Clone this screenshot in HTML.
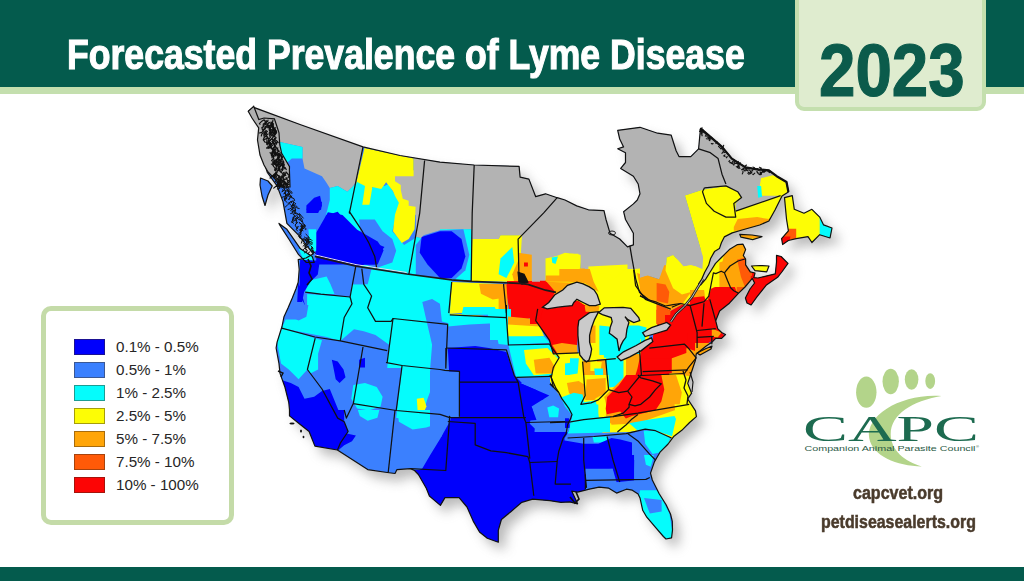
<!DOCTYPE html>
<html><head><meta charset="utf-8">
<style>
html,body{margin:0;padding:0;}
body{width:1024px;height:581px;position:relative;overflow:hidden;background:#fff;font-family:"Liberation Sans",sans-serif;}
#hdr{position:absolute;left:0;top:0;width:1024px;height:87px;background:#045b4d;}
#hdrl{position:absolute;left:0;top:87px;width:1024px;height:7px;background:#c4dfae;}
#title{position:absolute;left:67px;top:31px;color:#fff;font-weight:bold;font-size:42px;line-height:48px;white-space:nowrap;transform-origin:0 0;transform:scaleX(0.848);-webkit-text-stroke:1.1px #fff;}
#yrbox{position:absolute;left:795px;top:-10px;width:183px;height:113px;background:#dfeccf;border:4px solid #c4dfae;border-radius:9px;}
#yr{position:absolute;left:819px;top:31px;color:#0b5b4b;font-weight:bold;font-size:74.4px;line-height:80px;white-space:nowrap;transform-origin:0 0;transform:scaleX(0.88);-webkit-text-stroke:1.2px #0b5b4b;}
#leg{position:absolute;left:41px;top:306px;width:183px;height:209px;border:5px solid #c4dba8;border-radius:10px;background:#fff;}
.sw{position:absolute;left:74px;width:29px;height:14px;border:1px solid rgba(60,40,20,0.45);margin-top:0.5px;}
.lt{position:absolute;left:116px;font-size:15.2px;color:#262626;white-space:nowrap;line-height:18px;}
#foot{position:absolute;left:0;top:567px;width:1024px;height:14px;background:#045b4d;}
.url{position:absolute;color:#4a3b2c;font-weight:bold;white-space:nowrap;transform-origin:0 0;-webkit-text-stroke:0.5px #4a3b2c;}
</style></head><body>
<div id="hdr"></div><div id="hdrl"></div>
<div id="title">Forecasted Prevalence of Lyme Disease</div>
<div id="yrbox"></div>
<div id="yr">2023</div>

<svg id="map" width="1024" height="581" viewBox="0 0 1024 581" style="position:absolute;left:0;top:0">
<defs><clipPath id="landclip"><polygon points="253.7,107.4 300.0,124.5 363.0,146.9 400.0,155.5 440.0,162.1 474.2,165.0 519.1,166.4 520.1,177.1 528.9,179.1 535.7,196.7 545.5,193.8 557.2,197.7 565.0,200.0 576.7,205.9 588.4,209.8 604.0,210.7 606.0,219.5 610.0,233.2 619.7,239.0 627.5,246.9 633.4,244.9 633.4,233.2 625.5,219.5 623.6,211.7 633.4,203.9 637.3,200.0 640.0,193.8 638.2,184.0 633.4,176.2 620.7,168.4 625.5,162.5 625.5,152.7 617.7,148.8 623.6,146.9 619.7,139.0 617.7,130.3 640.0,127.3 657.6,133.2 671.2,135.2 676.1,150.8 679.0,156.6 690.8,156.6 698.6,148.8 700.5,128.3 708.4,135.2 722.0,146.9 731.8,158.6 745.5,167.4 757.2,169.3 768.9,170.3 776.7,176.2 786.5,182.0 788.4,192.0 782.0,196.0 775.0,210.0 768.9,221.0 759.7,225.0 742.0,230.0 732.2,232.9 724.3,236.9 721.4,242.8 719.4,248.6 714.5,251.6 710.6,258.5 708.6,265.3 704.7,272.2 701.8,279.1 698.5,284.0 700.5,285.0 705.7,279.1 710.6,271.2 715.5,263.4 721.4,257.5 729.3,249.6 737.1,244.7 743.0,244.2 745.6,249.6 743.3,255.5 745.6,259.0 745.6,264.8 750.3,271.9 755.0,273.0 753.8,277.7 758.0,278.0 766.1,276.1 775.3,273.8 776.5,262.0 776.5,255.4 781.1,256.5 788.0,263.4 782.2,271.5 777.6,277.3 766.1,285.3 756.9,296.9 751.1,305.0 747.0,303.0 745.4,298.0 750.0,289.0 754.6,283.0 752.3,278.4 745.0,287.0 738.4,293.4 729.4,303.2 719.6,311.0 715.7,320.8 717.7,328.6 721.6,332.5 725.5,334.5 721.6,338.4 715.7,338.4 711.8,342.3 705.9,346.2 696.2,354.0 695.5,360.0 691.6,371.7 687.7,383.4 691.6,393.2 687.7,399.0 695.5,410.8 696.4,416.6 689.6,422.5 681.8,430.3 674.0,436.2 668.1,444.0 660.3,451.8 654.5,461.6 650.5,473.1 652.3,480.0 659.2,493.8 666.1,504.8 670.5,514.0 672.3,521.3 672.5,530.0 671.6,537.8 666.0,539.0 663.4,536.5 655.1,526.8 646.8,517.2 642.7,510.3 640.0,497.9 638.1,494.1 632.3,490.2 626.4,489.2 616.6,493.1 608.8,488.2 599.1,487.2 589.3,489.2 577.6,492.1 571.7,491.1 577.6,503.8 569.8,501.9 560.9,502.3 549.9,500.7 532.7,499.1 521.8,502.3 510.8,511.7 501.4,519.5 498.3,530.4 498.3,542.2 487.3,538.3 479.5,532.0 473.2,521.1 467.0,507.0 459.1,497.6 445.0,497.6 440.4,505.4 429.4,496.0 426.3,488.2 418.4,474.5 414.5,470.5 410.6,468.6 397.0,469.6 395.0,473.5 387.2,472.5 367.7,469.6 337.4,450.0 314.9,446.1 309.1,431.5 299.3,423.7 289.5,415.9 289.5,410.0 288.8,402.7 284.9,387.0 280.0,373.4 279.0,363.6 276.1,348.0 277.1,342.1 282.0,326.5 284.0,316.7 288.0,308.0 292.3,298.0 296.2,288.2 298.2,282.3 299.2,269.5 298.2,259.7 306.0,258.0 313.0,254.0 312.3,252.7 298.6,235.2 286.9,223.4 283.0,201.6 277.1,185.9 267.3,172.3 262.5,156.6 258.6,139.0 259.5,125.4 248.8,110.7" fill="#000" /><polygon points="279.0,223.4 286.9,229.3 300.5,248.8 312.3,256.6 314.2,262.5 306.4,262.5 298.6,254.7 288.8,239.0 280.0,225.4" fill="#000" /><polygon points="260.5,178.0 268.0,181.0 272.2,186.0 268.0,195.0 265.0,205.5 262.0,196.0 260.0,185.0" fill="#000" /><polygon points="784.5,197.6 792.3,195.6 794.3,209.3 804.0,213.2 811.9,209.3 819.7,217.1 823.6,224.9 832.0,228.0 830.0,238.0 819.7,234.7 811.9,242.5 808.0,236.6 796.2,238.6 788.4,240.5 782.6,244.5 781.6,238.6 788.4,230.8 786.5,219.0" fill="#000" /><polygon points="739.8,234.4 752.0,235.0 762.0,236.7 752.7,239.6 741.0,237.2" fill="#000" /><polygon points="751.5,266.0 760.0,265.5 769.0,266.0 766.7,271.9 755.0,270.7" fill="#000" /><polygon points="697.0,353.0 705.0,349.0 712.0,346.0 711.0,349.0 700.0,355.0" fill="#000" /></clipPath>
<filter id="shd" x="-10%" y="-10%" width="130%" height="130%"><feGaussianBlur stdDeviation="6"/></filter></defs>
<g transform="translate(7,8)" filter="url(#shd)" opacity="0.5"><polygon points="253.7,107.4 300.0,124.5 363.0,146.9 400.0,155.5 440.0,162.1 474.2,165.0 519.1,166.4 520.1,177.1 528.9,179.1 535.7,196.7 545.5,193.8 557.2,197.7 565.0,200.0 576.7,205.9 588.4,209.8 604.0,210.7 606.0,219.5 610.0,233.2 619.7,239.0 627.5,246.9 633.4,244.9 633.4,233.2 625.5,219.5 623.6,211.7 633.4,203.9 637.3,200.0 640.0,193.8 638.2,184.0 633.4,176.2 620.7,168.4 625.5,162.5 625.5,152.7 617.7,148.8 623.6,146.9 619.7,139.0 617.7,130.3 640.0,127.3 657.6,133.2 671.2,135.2 676.1,150.8 679.0,156.6 690.8,156.6 698.6,148.8 700.5,128.3 708.4,135.2 722.0,146.9 731.8,158.6 745.5,167.4 757.2,169.3 768.9,170.3 776.7,176.2 786.5,182.0 788.4,192.0 782.0,196.0 775.0,210.0 768.9,221.0 759.7,225.0 742.0,230.0 732.2,232.9 724.3,236.9 721.4,242.8 719.4,248.6 714.5,251.6 710.6,258.5 708.6,265.3 704.7,272.2 701.8,279.1 698.5,284.0 700.5,285.0 705.7,279.1 710.6,271.2 715.5,263.4 721.4,257.5 729.3,249.6 737.1,244.7 743.0,244.2 745.6,249.6 743.3,255.5 745.6,259.0 745.6,264.8 750.3,271.9 755.0,273.0 753.8,277.7 758.0,278.0 766.1,276.1 775.3,273.8 776.5,262.0 776.5,255.4 781.1,256.5 788.0,263.4 782.2,271.5 777.6,277.3 766.1,285.3 756.9,296.9 751.1,305.0 747.0,303.0 745.4,298.0 750.0,289.0 754.6,283.0 752.3,278.4 745.0,287.0 738.4,293.4 729.4,303.2 719.6,311.0 715.7,320.8 717.7,328.6 721.6,332.5 725.5,334.5 721.6,338.4 715.7,338.4 711.8,342.3 705.9,346.2 696.2,354.0 695.5,360.0 691.6,371.7 687.7,383.4 691.6,393.2 687.7,399.0 695.5,410.8 696.4,416.6 689.6,422.5 681.8,430.3 674.0,436.2 668.1,444.0 660.3,451.8 654.5,461.6 650.5,473.1 652.3,480.0 659.2,493.8 666.1,504.8 670.5,514.0 672.3,521.3 672.5,530.0 671.6,537.8 666.0,539.0 663.4,536.5 655.1,526.8 646.8,517.2 642.7,510.3 640.0,497.9 638.1,494.1 632.3,490.2 626.4,489.2 616.6,493.1 608.8,488.2 599.1,487.2 589.3,489.2 577.6,492.1 571.7,491.1 577.6,503.8 569.8,501.9 560.9,502.3 549.9,500.7 532.7,499.1 521.8,502.3 510.8,511.7 501.4,519.5 498.3,530.4 498.3,542.2 487.3,538.3 479.5,532.0 473.2,521.1 467.0,507.0 459.1,497.6 445.0,497.6 440.4,505.4 429.4,496.0 426.3,488.2 418.4,474.5 414.5,470.5 410.6,468.6 397.0,469.6 395.0,473.5 387.2,472.5 367.7,469.6 337.4,450.0 314.9,446.1 309.1,431.5 299.3,423.7 289.5,415.9 289.5,410.0 288.8,402.7 284.9,387.0 280.0,373.4 279.0,363.6 276.1,348.0 277.1,342.1 282.0,326.5 284.0,316.7 288.0,308.0 292.3,298.0 296.2,288.2 298.2,282.3 299.2,269.5 298.2,259.7 306.0,258.0 313.0,254.0 312.3,252.7 298.6,235.2 286.9,223.4 283.0,201.6 277.1,185.9 267.3,172.3 262.5,156.6 258.6,139.0 259.5,125.4 248.8,110.7" fill="#777" /><polygon points="279.0,223.4 286.9,229.3 300.5,248.8 312.3,256.6 314.2,262.5 306.4,262.5 298.6,254.7 288.8,239.0 280.0,225.4" fill="#777" /><polygon points="260.5,178.0 268.0,181.0 272.2,186.0 268.0,195.0 265.0,205.5 262.0,196.0 260.0,185.0" fill="#777" /><polygon points="784.5,197.6 792.3,195.6 794.3,209.3 804.0,213.2 811.9,209.3 819.7,217.1 823.6,224.9 832.0,228.0 830.0,238.0 819.7,234.7 811.9,242.5 808.0,236.6 796.2,238.6 788.4,240.5 782.6,244.5 781.6,238.6 788.4,230.8 786.5,219.0" fill="#777" /><polygon points="739.8,234.4 752.0,235.0 762.0,236.7 752.7,239.6 741.0,237.2" fill="#777" /><polygon points="751.5,266.0 760.0,265.5 769.0,266.0 766.7,271.9 755.0,270.7" fill="#777" /><polygon points="697.0,353.0 705.0,349.0 712.0,346.0 711.0,349.0 700.0,355.0" fill="#777" /></g>
<g clip-path="url(#landclip)">
<rect x="240" y="100" width="600" height="450" fill="#3b80fe"/>
<polygon points="240.0,95.0 850.0,95.0 850.0,196.0 780.6,195.6 735.7,211.2 735.7,203.4 741.6,197.6 737.7,191.7 726.0,185.9 702.5,189.8 684.9,195.6 704.5,262.0 704.1,265.2 696.2,269.0 680.6,265.2 674.8,255.4 667.0,255.4 665.0,267.1 649.4,276.9 641.6,278.8 631.8,273.0 622.0,269.0 602.5,271.0 590.8,273.0 581.0,269.0 579.1,255.4 569.3,253.4 545.9,259.3 545.5,289.8 531.0,284.0 528.0,274.0 528.0,260.0 519.0,254.7 519.0,235.2 500.5,235.2 498.6,239.0 472.2,239.0 471.2,229.3 440.0,231.0 425.5,239.0 415.8,237.1 415.8,215.0 405.0,210.0 398.0,200.0 390.0,186.0 390.0,176.0 413.8,170.3 413.8,158.6 363.0,147.0 357.2,180.0 353.3,185.9 347.4,191.8 337.7,186.0 329.8,187.9 326.0,182.0 322.0,176.2 304.5,168.4 302.5,158.6 302.5,146.9 280.0,142.0 270.0,140.0 255.0,125.0 245.0,112.0 240.0,100.0" fill="#b3b3b3" />
<polygon points="280.0,142.0 302.5,146.9 302.5,158.6 291.8,158.6 284.9,164.5 280.0,154.7" fill="#05fcfc" />
<polygon points="329.8,187.9 337.7,185.9 347.4,191.8 353.3,185.9 357.2,182.0 363.0,178.1 357.2,197.7 365.0,193.8 376.7,184.0 384.5,185.9 388.4,184.0 400.2,203.5 402.1,213.1 396.2,215.6 392.3,231.2 404.1,244.9 413.8,239.1 415.8,237.1 425.5,239.1 440.0,237.1 440.0,278.1 376.7,268.4 357.2,266.4 324.0,229.3 325.9,215.6 329.8,200.0" fill="#05fcfc" />
<polygon points="364.5,147.9 413.6,158.6 413.6,176.3 395.0,176.3 395.0,181.2 400.8,185.1 400.8,190.0 402.8,198.8 408.7,200.8 408.7,205.7 415.6,206.7 414.6,229.3 408.7,239.1 401.8,243.0 393.0,231.2 395.0,214.5 398.9,202.8 395.0,195.9 393.0,191.0 386.1,182.2 381.2,189.1 372.4,187.1 369.4,204.7 356.7,204.7 353.0,197.0" fill="#fdfd05" />
<polygon points="357.2,182.0 365.0,185.9 361.1,213.1 357.2,219.5 349.4,211.7 346.4,200.0" fill="#05fcfc" />
<polygon points="359.1,219.5 374.8,219.5 382.6,231.2 392.3,239.1 396.2,250.8 392.3,262.5 380.6,266.4 376.7,268.4 365.0,264.5 361.1,239.1" fill="#3b80fe" />
<polygon points="325.9,215.6 337.7,211.7 349.4,225.4 365.0,239.1 384.5,246.9 376.7,256.6 374.8,264.5 365.0,264.5 357.2,266.4 315.2,255.7 316.2,246.9 320.1,239.1 324.0,229.3" fill="#0000fc" />
<polygon points="308.4,203.9 316.2,200.0 322.0,202.0 321.1,209.8 314.2,211.7 306.4,209.8" fill="#0000fc" />
<polygon points="306.4,205.5 314.2,197.7 320.1,195.7 322.0,205.5 318.1,213.1 306.4,213.1" fill="#0000fc" />
<polygon points="316.2,232.7 327.9,212.2 342.5,215.1 357.2,229.8 377.7,241.5 383.6,250.3 377.7,264.6 316.2,264.6" fill="#0000fc" />
<polygon points="308.4,229.3 316.2,229.3 316.2,250.8 310.3,252.7" fill="#05fcfc" />
<polygon points="298.6,248.8 312.3,254.7 314.2,262.5 304.5,262.5" fill="#05fcfc" />
<polygon points="440.0,229.3 471.2,229.3 471.2,280.1 440.0,279.7" fill="#05fcfc" />
<polygon points="440.0,230.3 463.4,229.3 469.3,254.7 465.4,270.3 455.6,279.1 440.0,279.1 415.8,278.1 415.8,244.9 423.6,235.2" fill="#3b80fe" />
<polygon points="440.0,231.2 451.7,231.2 461.5,239.1 465.4,256.6 461.5,268.4 451.7,278.1 440.0,278.1 427.5,264.5 419.7,252.7 421.6,237.1" fill="#0000fc" />
<polygon points="307.1,294.1 350.1,297.0 352.0,284.3 363.8,284.3 363.8,266.7 451.6,280.4 449.7,323.4 441.9,321.4 439.9,303.8 432.1,298.9 422.3,301.9 426.2,319.5 432.1,344.8 430.2,368.1 387.2,368.1 389.1,344.8 375.5,335.1 363.8,331.2 354.0,329.2 340.3,340.9 326.6,337.0 281.7,328.2 285.6,319.5 299.3,319.5 307.1,309.7" fill="#05fcfc" />
<polygon points="309.1,280.4 326.6,276.5 330.5,284.3 334.5,294.1 320.8,294.1 305.2,292.1" fill="#05fcfc" />
<polygon points="300.1,259.7 319.8,260.7 317.8,274.4 310.0,282.3 304.1,292.1 302.1,302.0 297.2,302.0 298.2,282.3 305.2,305.8 299.3,294.1" fill="#0000fc" />
<polygon points="355.9,266.7 371.6,268.7 367.7,284.3 352.0,284.3" fill="#3b80fe" />
<polygon points="282.0,327.5 315.2,338.2 307.4,369.5 298.6,379.2 288.8,369.5 281.0,363.6 277.1,342.1" fill="#05fcfc" />
<polygon points="279.1,379.2 290.8,383.1 298.6,387.0 304.5,398.8 314.2,396.8 322.0,390.9 329.8,389.0 341.6,418.1 279.1,418.1" fill="#0000fc" />
<polygon points="315.2,338.2 322.0,340.2 318.1,353.8 318.1,369.5 310.3,373.4 307.4,369.5" fill="#05fcfc" />
<polygon points="331.8,359.7 337.7,361.6 343.5,369.5 345.5,377.3 339.6,383.1 335.7,379.2 333.8,369.5" fill="#0000fc" />
<polygon points="359.1,359.7 365.0,357.7 365.0,367.5 359.1,367.5" fill="#0000fc" />
<polygon points="353.3,385.1 365.0,383.1 376.7,387.0 382.6,396.8 380.6,406.6 368.9,410.5 357.2,408.5 351.3,398.8" fill="#05fcfc" />
<polygon points="393.3,318.7 425.5,322.6 427.5,367.5 402.1,365.5 386.5,362.6 388.4,350.9" fill="#05fcfc" />
<polygon points="402.1,365.5 429.5,367.5 433.4,383.1 427.5,398.8 421.6,418.1 396.2,418.1" fill="#05fcfc" />
<polygon points="416.8,398.8 423.6,397.8 426.5,406.6 423.6,412.4 417.7,411.4" fill="#fdfd05" />
<polygon points="288.8,305.0 308.4,305.0 306.4,316.7 298.6,320.6 290.8,316.7" fill="#3b80fe" />
<polygon points="289.5,410.0 344.2,410.0 344.2,421.7 348.1,431.5 340.3,443.2 337.4,450.0 314.9,446.1 289.5,415.9" fill="#0000fc" />
<polygon points="337.4,431.5 355.9,435.4 352.0,441.2 344.2,445.2 337.4,451.0" fill="#0000fc" />
<polygon points="397.0,410.0 439.9,410.0 438.0,423.7 426.2,427.6 412.6,429.5 398.9,421.7" fill="#05fcfc" />
<polygon points="357.9,410.0 379.4,410.0 377.4,417.8 367.7,420.7 359.8,415.9" fill="#05fcfc" />
<polygon points="422.3,468.6 430.2,454.9 439.9,439.3 449.7,421.7 451.6,415.9 447.8,348.0 475.2,346.0 488.8,348.0 506.4,351.9 514.2,375.3 522.0,383.1 533.8,387.0 545.5,398.8 549.4,418.1 529.8,423.4 535.7,429.3 565.0,429.3 576.7,439.1 592.3,444.9 609.9,441.0 627.5,439.1 635.3,456.6 633.4,478.1 619.7,482.0 615.8,468.4 584.5,466.4 584.5,491.8 557.2,513.1 440.0,513.1 420.0,560.0 400.0,480.0" fill="#0000fc" />
<polygon points="440.0,371.4 459.5,371.4 459.5,418.1 449.0,417.3 441.2,437.0 430.0,437.0 430.0,371.0" fill="#3b80fe" />
<polygon points="525.9,400.0 565.0,400.0 567.0,419.5 565.0,429.3 535.7,429.3 529.8,423.4 531.8,411.7 549.4,418.1 529.8,406.6 537.7,396.8 549.4,398.8" fill="#3b80fe" />
<polygon points="547.4,405.9 559.1,405.9 559.1,417.6 547.4,417.6" fill="#05fcfc" />
<polygon points="584.5,466.4 615.8,464.5 619.7,482.0 592.3,489.8 584.5,489.8" fill="#3b80fe" />
<polygon points="472.2,239.1 498.6,239.1 500.5,235.2 522.0,235.2 519.1,282.0 471.2,281.1" fill="#fdfd05" />
<polygon points="500.5,258.6 512.3,246.9 514.2,262.5 506.4,278.1 498.6,274.2" fill="#05fcfc" />
<polygon points="512.3,274.2 519.1,258.6 525.9,262.5 522.0,282.0 514.2,282.0" fill="#ffa508" />
<polygon points="518.1,252.7 531.8,254.7 531.8,285.9 518.1,285.9" fill="#ffa508" />
<polygon points="524.0,262.5 527.9,262.5 527.9,266.4 524.0,266.4" fill="#fc0505" />
<polygon points="588.4,266.4 627.5,264.5 627.5,282.0 588.4,282.0" fill="#fdfd05" />
<polygon points="545.5,258.6 555.2,256.6 565.0,252.7 580.6,254.7 580.6,268.4 592.3,272.3 609.9,274.2 613.8,280.1 621.6,270.3 640.0,268.4 640.0,313.1 545.5,313.1" fill="#fdfd05" />
<polygon points="545.5,280.1 557.2,268.4 584.5,268.4 594.3,276.2 596.2,284.0 592.3,293.8 576.7,289.8 557.2,293.8 545.5,291.8" fill="#ffa508" />
<polygon points="451.7,282.0 503.5,284.0 506.4,313.1 448.8,313.1 506.4,317.7 449.8,314.8" fill="#fdfd05" />
<polygon points="479.1,284.0 502.5,284.0 504.5,297.7 492.7,299.6 481.0,293.8" fill="#ffa508" />
<polygon points="463.4,307.0 494.7,307.0 498.6,314.8 461.5,314.8" fill="#05fcfc" />
<polygon points="449.8,314.8 506.4,317.7 506.4,324.5 488.8,323.6 469.3,324.5 447.8,326.5" fill="#05fcfc" />
<polygon points="488.8,316.7 506.4,317.7 508.4,345.0 498.6,344.1 496.6,334.3" fill="#05fcfc" />
<polygon points="504.5,284.0 545.5,289.8 557.2,293.8 549.4,313.1 506.4,313.1 537.7,305.0 533.8,316.7 524.0,320.6 510.3,316.7 508.4,305.0" fill="#fc0505" />
<polygon points="498.6,285.9 506.4,284.0 508.4,313.1 498.6,313.1" fill="#ffa508" />
<polygon points="507.0,281.0 532.0,281.0 532.0,293.0 507.0,293.0" fill="#fc0505" />
<polygon points="488.0,309.0 511.0,309.0 511.0,319.0 488.0,319.0" fill="#05fcfc" />
<polygon points="507.8,316.6 539.2,319.5 541.1,328.4 507.8,326.4" fill="#ffa508" />
<polygon points="507.8,324.4 540.1,326.4 544.1,336.2 507.8,338.2" fill="#fdfd05" />
<polygon points="507.8,336.2 544.1,336.2 550.0,343.1 507.8,344.6" fill="#05fcfc" />
<polygon points="490.0,317.0 508.0,317.0 508.0,340.0 490.0,340.0" fill="#05fcfc" />
<polygon points="508.4,345.0 549.4,344.1 559.1,357.7 551.3,377.3 516.2,377.3 514.2,369.5" fill="#05fcfc" />
<polygon points="524.0,349.9 547.4,348.0 559.1,359.7 553.3,373.4 533.8,375.3 525.9,363.6" fill="#fdfd05" />
<polygon points="533.8,359.7 549.4,357.7 555.2,367.5 551.3,373.4 535.7,373.4" fill="#ffa508" />
<polygon points="537.7,308.9 580.6,305.0 578.7,324.5 576.7,351.9 553.3,353.8 549.4,340.2 535.7,320.6" fill="#fc0505" />
<polygon points="552.3,345.1 561.9,343.1 577.1,345.1 577.8,357.5 559.2,356.2" fill="#ffa508" />
<polygon points="553.3,353.8 578.7,352.9 582.6,361.6 584.5,402.7 580.6,412.4 567.0,406.6 553.3,387.0 551.3,377.3 559.1,357.7" fill="#fdfd05" />
<polygon points="565.0,363.6 580.6,361.6 582.6,398.8 572.8,392.9 565.0,383.1" fill="#05fcfc" />
<polygon points="572.8,383.1 582.6,383.1 584.5,396.8 574.8,394.8" fill="#ffa508" />
<polygon points="582.6,361.6 606.0,359.7 608.0,389.0 592.3,400.7 584.5,402.7" fill="#ffa508" />
<polygon points="596.2,369.5 606.0,369.5 606.0,387.0 598.2,383.1" fill="#05fcfc" />
<polygon points="594.3,316.7 615.8,316.7 623.6,344.1 615.8,358.7 594.3,359.7" fill="#fdfd05" />
<polygon points="600.2,328.4 615.8,330.4 619.7,357.7 604.1,357.7" fill="#05fcfc" />
<polygon points="606.0,357.7 627.5,355.8 627.5,383.1 615.8,389.0 608.0,389.0" fill="#05fcfc" />
<polygon points="555.2,305.0 596.2,305.0 588.4,312.8 557.2,312.8" fill="#fc0505" />
<polygon points="540.0,280.8 545.9,280.8 561.5,286.6 543.9,304.2 540.0,304.2" fill="#fc0505" />
<polygon points="545.9,280.8 559.5,269.1 588.8,273.0 594.7,286.6 586.9,294.5 545.9,294.5" fill="#ffa508" />
<polygon points="545.9,258.9 555.5,256.4 568.2,253.8 578.4,253.8 579.7,269.1 589.8,271.6 606.4,278.0 611.5,280.6 619.1,275.5 625.5,269.1 633.1,269.1 638.2,288.2 644.6,300.9 651.0,303.5 660.0,303.5 660.0,324.0 598.8,324.0 597.5,292.0 583.5,283.1 545.9,281.8" fill="#fdfd05" />
<polygon points="551.6,257.6 558.0,256.4 555.5,264.0 552.3,262.7" fill="#05fcfc" />
<polygon points="559.3,269.1 589.8,269.1 593.7,281.8 598.8,292.0 584.7,283.1 568.2,281.8 545.9,281.8 545.9,275.5 559.3,275.5" fill="#ffa508" />
<polygon points="637.0,272.9 660.0,280.6 660.0,303.5 652.2,300.9 642.0,297.1" fill="#ffa508" />
<polygon points="530.0,281.8 546.6,281.8 555.5,292.0 544.0,307.3 537.6,324.0 530.0,324.0" fill="#fc0505" />
<polygon points="542.7,308.6 561.8,300.9 578.4,300.9 586.0,306.0 598.8,306.0 589.8,316.2 578.4,324.0 540.2,324.0" fill="#fc0505" />
<polygon points="584.7,303.5 598.8,303.5 596.2,312.4 586.0,311.1" fill="#ffa508" />
<polygon points="589.6,305.9 670.0,298.0 670.0,327.4 653.4,327.4 646.5,343.1 623.0,343.1 619.1,355.0 589.6,355.0" fill="#fdfd05" />
<polygon points="584.7,305.9 599.4,305.9 598.5,311.7 585.7,311.7" fill="#ffa508" />
<polygon points="644.6,298.0 670.0,298.0 670.0,322.5 656.4,322.5 653.4,309.8" fill="#ffa508" />
<polygon points="656.4,305.9 670.0,303.9 670.0,355.0 651.5,355.0 653.4,332.3 658.3,322.5" fill="#fc0505" />
<polygon points="589.6,325.5 595.5,325.5 595.5,343.1 589.6,343.1" fill="#ffa508" />
<polygon points="599.4,325.5 609.3,326.5 612.2,331.4 617.1,339.2 619.1,355.0 599.4,355.0" fill="#05fcfc" />
<polygon points="623.0,325.5 638.7,325.5 646.5,327.4 644.6,343.1 623.0,343.1 621.0,337.3" fill="#05fcfc" />
<polygon points="636.7,339.2 640.7,339.2 640.7,343.1 636.7,343.1" fill="#fdfd05" />
<polygon points="582.7,360.7 606.9,359.5 608.2,394.0 582.7,394.0" fill="#ffa508" />
<polygon points="590.4,362.0 601.8,362.0 600.6,370.9 590.4,370.9" fill="#fdfd05" />
<polygon points="594.2,368.4 603.1,368.4 603.1,379.8 595.5,379.8" fill="#05fcfc" />
<polygon points="570.0,355.7 582.7,355.7 582.7,394.0 570.0,394.0" fill="#fdfd05" />
<polygon points="570.0,358.2 578.9,358.2 577.6,373.5 570.0,374.7" fill="#05fcfc" />
<polygon points="605.7,359.5 629.8,356.9 633.7,368.4 628.6,386.2 623.5,394.0 608.2,394.0" fill="#fdfd05" />
<polygon points="605.7,359.5 619.7,358.2 623.5,360.7 623.5,377.3 618.4,386.2 609.5,387.5 606.9,377.3" fill="#05fcfc" />
<polygon points="626.0,358.2 641.3,350.6 638.8,370.9 629.8,386.2 620.9,394.0 626.0,376.0" fill="#ffa508" />
<polygon points="641.3,350.6 651.5,342.9 659.1,332.7 671.9,327.6 700.0,320.0 700.0,394.0 626.0,394.0 633.7,381.1 637.5,368.4" fill="#fc0505" />
<polygon points="671.9,358.2 689.7,351.8 697.3,353.1 696.1,373.5 689.7,376.0 671.9,373.5" fill="#ffa508" />
<polygon points="669.3,373.5 692.2,370.9 694.8,391.3 677.0,394.0 666.8,386.2" fill="#fdfd05" />
<polygon points="550.0,375.0 583.7,375.0 583.7,404.3 570.5,405.8 561.7,398.4 550.0,389.6" fill="#fdfd05" />
<polygon points="558.8,375.0 579.3,375.0 577.8,383.8 561.7,383.8" fill="#05fcfc" />
<polygon points="570.5,385.3 583.7,383.8 583.7,398.4 572.0,397.0" fill="#ffa508" />
<polygon points="583.7,375.0 608.6,375.0 608.6,389.6 598.3,399.9 580.8,404.3" fill="#fdfd05" />
<polygon points="586.6,379.4 605.7,377.9 605.7,395.5 593.9,399.9 585.2,399.9" fill="#ffa508" />
<polygon points="570.5,404.3 598.3,399.9 599.8,423.3 570.5,423.3" fill="#05fcfc" />
<polygon points="595.4,398.4 611.5,389.6 637.9,375.0 700.0,375.0 700.0,460.1 605.7,460.1 599.8,423.3" fill="#fdfd05" />
<polygon points="604.2,397.0 614.4,386.7 626.2,375.0 676.0,375.0 681.8,392.6 678.9,408.7 637.9,423.3 611.5,424.8" fill="#ffa508" />
<polygon points="607.1,397.0 618.8,385.3 626.2,375.0 661.3,375.0 664.3,389.6 661.3,401.4 655.5,410.2 632.0,416.0 617.4,421.9 607.1,417.5 605.7,408.7" fill="#fc0505" />
<polygon points="570.5,423.3 599.8,421.9 602.7,433.6 567.6,438.0 567.6,427.7" fill="#05fcfc" />
<polygon points="605.7,414.5 620.3,411.6 626.2,418.9 617.4,423.3 608.6,423.3" fill="#ffa508" />
<polygon points="629.1,423.3 652.5,418.9 674.5,416.0 678.9,424.8 673.0,436.5 655.5,430.7 637.9,430.7" fill="#05fcfc" />
<polygon points="674.5,404.3 689.2,404.3 690.6,418.9 678.9,436.5 671.6,438.0 676.0,418.9" fill="#fdfd05" />
<polygon points="567.6,433.6 629.1,432.1 645.2,429.2 655.5,430.7 671.6,438.0 655.5,460.0 563.2,460.0 564.6,438.0" fill="#3b80fe" />
<polygon points="643.7,430.7 655.5,430.7 670.1,438.0 665.7,451.2 652.5,454.1 645.2,443.8" fill="#05fcfc" />
<polygon points="592.5,436.5 607.1,436.5 607.1,442.4 593.9,442.4" fill="#05fcfc" />
<polygon points="558.8,439.4 583.7,443.8 598.3,443.8 611.5,438.0 620.3,439.4 632.0,442.4 632.0,460.0 558.8,460.0" fill="#0000fc" />
<polygon points="550.0,408.7 558.8,408.7 569.0,410.2 570.5,421.9 550.0,423.3" fill="#3b80fe" />
<polygon points="550.0,408.7 558.8,408.7 557.3,417.5 550.0,417.5" fill="#05fcfc" />
<polygon points="519.8,382.9 549.3,380.9 551.2,382.9 559.1,394.6 565.0,406.4 570.8,414.3 572.8,421.1 568.9,432.0 534.5,432.0 535.5,419.2 531.6,406.4 549.3,395.6" fill="#3b80fe" />
<polygon points="510.0,375.0 519.8,382.9 549.3,395.6 531.6,406.4 536.5,420.1 524.7,421.1 524.7,432.0 510.0,432.0" fill="#0000fc" />
<polygon points="565.0,418.2 568.9,418.2 569.9,428.0 565.0,428.0" fill="#0000fc" />
<polygon points="547.3,407.4 553.2,405.4 559.1,408.4 558.1,417.2 549.3,417.2" fill="#05fcfc" />
<polygon points="551.2,375.0 584.6,375.0 584.6,399.5 573.8,392.7 561.0,397.6 559.1,394.6 551.2,382.9" fill="#fdfd05" />
<polygon points="566.9,382.9 578.7,380.9 584.6,384.8 584.6,399.5 573.8,398.6 568.9,392.7" fill="#ffa508" />
<polygon points="561.0,397.6 573.8,392.7 582.6,394.6 584.6,404.4 578.7,410.3 572.8,416.2 565.0,406.4" fill="#05fcfc" />
<polygon points="572.8,416.2 578.7,409.3 584.6,404.4 598.3,404.4 598.3,421.1 570.8,421.1" fill="#05fcfc" />
<polygon points="570.8,421.1 610.0,416.2 610.0,432.0 568.9,432.0" fill="#05fcfc" />
<polygon points="400.0,470.0 585.0,470.0 590.0,495.0 560.0,520.0 500.0,550.0 420.0,550.0" fill="#0000fc" />
<polygon points="560.0,455.0 634.2,455.0 634.2,482.3 614.7,482.3 612.7,468.7 585.4,470.6 585.4,490.2 560.0,494.1" fill="#0000fc" />
<polygon points="585.4,468.7 612.7,468.7 616.6,482.3 651.8,478.4 651.8,490.2 585.4,490.2" fill="#3b80fe" />
<polygon points="634.2,455.0 651.8,455.0 651.8,480.4 634.2,480.4" fill="#3b80fe" />
<polygon points="640.1,490.2 657.7,490.2 669.4,513.6 673.3,537.0 665.5,540.9 642.0,517.5 638.1,499.9" fill="#05fcfc" />
<polygon points="644.0,498.0 661.6,499.9 661.6,511.6 649.8,513.6" fill="#3b80fe" />
<polygon points="644.0,455.0 653.8,455.0 650.8,466.7 645.9,464.8" fill="#05fcfc" />
<polygon points="680.0,250.0 722.0,250.0 722.0,300.0 680.0,300.0" fill="#fdfd05" />
<polygon points="640.0,250.0 703.7,250.0 702.4,269.1 696.0,266.6 690.9,265.3 683.3,266.6 678.2,260.2 673.1,255.1 666.7,257.6 665.5,270.4 659.1,279.3 647.6,275.5 640.0,278.0" fill="#b3b3b3" />
<polygon points="640.0,278.0 647.6,275.5 659.1,279.3 664.2,265.3 669.3,265.3 678.2,276.7 690.9,279.3 701.1,288.2 693.5,300.9 682.0,304.7 670.6,311.1 656.6,303.5 640.0,297.1" fill="#ffa508" />
<polygon points="666.7,257.6 673.1,255.1 678.2,260.2 683.3,266.6 690.9,265.3 696.0,266.6 701.1,271.6 706.2,279.3 701.1,288.2 690.9,292.0 682.0,294.6 673.1,288.2 665.5,270.4" fill="#fdfd05" />
<polygon points="656.6,283.1 665.5,284.4 669.3,292.0 668.0,303.5 656.6,300.9" fill="#ff5a08" />
<polygon points="640.0,297.1 656.6,303.5 656.6,324.0 640.0,324.0" fill="#fdfd05" />
<polygon points="718.9,253.8 724.0,250.0 741.9,250.0 754.6,265.3 770.0,266.6 770.0,288.2 736.8,293.3 711.3,298.4 690.9,306.0 682.0,304.7 688.4,295.8 694.7,288.2 703.7,280.6 711.3,267.8" fill="#ffa508" />
<polygon points="694.7,288.2 703.7,280.6 711.3,267.8 718.9,253.8 724.0,250.0 729.1,250.0 716.4,271.6 711.3,281.8 707.5,299.7 690.9,306.0 682.0,304.7 688.4,295.8" fill="#fdfd05" />
<polygon points="736.8,272.9 754.6,271.6 754.6,292.0 736.8,293.3" fill="#ff5a08" />
<polygon points="711.3,288.2 721.5,284.4 729.1,283.1 738.0,294.6 729.1,307.3 716.4,324.0 706.2,324.0 707.5,300.9" fill="#fc0505" />
<polygon points="670.6,311.1 682.0,304.7 707.5,300.9 713.8,324.0 656.6,324.0 656.6,309.8" fill="#fc0505" />
<polygon points="656.6,303.5 670.6,311.1 669.3,324.0 656.6,324.0" fill="#ff5a08" />
<polygon points="641.3,350.6 651.5,342.9 659.1,332.7 671.9,327.6 700.0,320.0 700.0,358.2 641.3,358.2" fill="#fc0505" />
<polygon points="690.3,304.2 709.8,299.3 715.7,281.7 729.4,272.0 737.2,293.4 729.4,303.2 719.6,311.0 715.7,320.8 721.6,332.5 725.5,336.4 713.8,340.3 698.1,348.1 686.4,352.0" fill="#fc0505" />
<polygon points="686.4,348.1 698.1,352.0 696.2,375.5 686.4,375.5" fill="#ffa508" />
<polygon points="713.4,272.8 724.4,272.8 729.1,285.3 721.2,285.3 711.9,288.4" fill="#ffa508" />
<polygon points="710.3,272.8 713.4,272.8 715.0,280.6 712.7,288.4 709.5,288.4" fill="#fdfd05" />
<polygon points="711.9,288.4 721.2,285.3 729.1,285.3 733.8,290.8 738.4,293.1 729.1,302.5 721.2,310.0 709.5,310.0 710.3,296.2" fill="#fc0505" />
<polygon points="690.0,290.0 704.1,290.0 705.6,301.7 690.0,305.6" fill="#ffa508" />
<polygon points="711.8,328.6 721.6,332.5 717.7,337.4 711.8,336.4" fill="#ffa508" />
<polygon points="671.9,358.2 689.7,351.8 697.3,353.1 696.1,373.5 689.7,376.0 671.9,373.5" fill="#ffa508" />
<polygon points="665.0,315.0 690.0,315.0 690.0,332.0 665.0,332.0" fill="#fc0505" />
<polygon points="612.0,336.0 640.0,336.0 640.0,354.0 612.0,354.0" fill="#05fcfc" />
<polygon points="586.0,352.0 597.0,352.0 597.0,362.0 586.0,362.0" fill="#fdfd05" />
<polygon points="695.0,343.0 715.0,343.0 715.0,356.0 695.0,356.0" fill="#ffa508" />
<polygon points="684.9,195.6 702.5,189.8 726.0,185.9 737.7,191.7 741.6,197.6 735.7,203.4 735.7,211.2 780.6,195.6 790.0,196.0 790.0,240.0 704.1,265.2 704.5,262.0" fill="#fdfd05" />
<polygon points="733.8,226.9 737.7,219.1 757.2,217.1 768.9,219.1 776.7,209.3 776.7,230.8 733.8,230.8" fill="#ffa508" />
<polygon points="761.1,178.1 772.8,175.2 784.5,180.1 788.4,191.8 782.6,195.7 761.1,195.7 759.1,189.8" fill="#fdfd05" />
<polygon points="757.2,185.9 761.1,185.9 762.1,196.7 758.2,197.7" fill="#05fcfc" />
<polygon points="695.9,287.0 714.5,259.4 721.4,257.5 729.3,249.6 737.1,244.7 745.0,244.7 739.1,261.4 725.3,271.2 722.4,287.0" fill="#fdfd05" />
<polygon points="724.3,252.6 737.1,244.7 743.0,244.2 745.9,247.7 745.0,252.6 741.0,258.5 731.2,259.4 722.4,262.4" fill="#ffa508" />
<polygon points="719.4,262.4 745.0,254.5 748.9,269.3 753.8,274.2 748.9,287.0 719.4,287.0" fill="#ffa508" />
<polygon points="737.1,259.4 745.0,257.5 748.9,269.3 754.8,275.1 745.0,287.0 741.0,277.1" fill="#ff5a08" />
<polygon points="690.0,297.8 704.1,296.2 709.5,310.0 690.0,310.0" fill="#fc0505" />
<polygon points="739.1,233.9 760.7,234.9 761.6,238.8 743.0,237.9" fill="#ffa508" />
<polygon points="750.8,265.3 768.5,265.3 767.5,271.2 751.8,270.2" fill="#fdfd05" />
<polygon points="750.8,276.1 764.6,274.2 774.4,271.2 776.4,254.5 780.3,254.5 788.1,262.4 783.2,269.3 776.4,276.1 764.6,287.0 750.8,287.0" fill="#fc0505" />
<polygon points="744.7,297.8 749.4,290.8 754.1,284.5 758.0,277.5 760.3,274.4 770.0,275.2 770.0,285.3 764.2,290.0 760.3,293.9 756.4,300.2 752.5,305.6 747.0,301.7" fill="#fc0505" />
<polygon points="752.0,272.0 766.1,272.0 775.3,270.0 776.5,252.0 790.0,262.0 782.2,275.0 766.1,288.0 756.9,300.0 751.1,308.0 743.0,303.0 745.4,296.0 752.0,285.0" fill="#fc0505" />
<polygon points="780.0,190.0 840.0,190.0 840.0,250.0 780.0,250.0" fill="#fdfd05" />
<polygon points="779.6,228.8 796.2,228.8 796.2,238.6 784.5,246.4 779.6,244.5" fill="#ff5a08" />
<polygon points="779.6,236.6 790.4,236.6 788.4,246.4 779.6,246.4" fill="#fc0505" />
<polygon points="819.7,217.1 835.3,223.0 835.3,240.5 819.7,238.6" fill="#05fcfc" />
</g>
<polygon points="542.5,307.2 548.8,302.5 555.0,294.7 562.8,290.0 567.5,285.3 576.9,282.2 583.1,283.8 589.4,286.9 594.1,290.0 597.2,294.7 600.3,304.1 595.6,305.6 589.4,305.6 583.1,302.5 576.9,299.4 573.8,302.5 572.2,305.6 564.4,306.4 558.1,307.2 547.2,308.8" fill="#cacaca" stroke="#111" stroke-width="1.3"/>
<polygon points="578.8,320.6 582.8,317.6 589.6,312.7 598.5,311.7 594.5,319.6 591.6,327.4 589.6,335.3 589.6,342.2 591.6,349.0 590.6,355.0 589.0,360.0 586.6,362.0 583.0,359.0 579.8,355.0 578.8,345.1 577.9,335.3 577.9,327.4" fill="#cacaca" stroke="#111" stroke-width="1.3"/>
<polygon points="598.5,312.7 604.3,307.8 623.0,307.3 630.8,308.3 638.7,317.6 639.7,320.6 633.8,322.5 627.9,319.6 625.0,316.6 628.9,322.5 626.9,329.4 625.9,337.3 623.0,341.2 621.0,345.1 619.0,351.0 617.1,339.2 612.2,335.3 609.3,333.3 610.2,327.4 612.2,321.6 611.2,317.6 602.4,314.7" fill="#cacaca" stroke="#111" stroke-width="1.3"/>
<polygon points="617.1,356.9 623.5,351.8 636.2,345.5 645.1,340.4 651.5,337.8 652.8,341.6 641.3,350.6 629.8,356.9 620.9,360.7" fill="#cacaca" stroke="#111" stroke-width="1.3"/>
<polygon points="642.6,332.7 651.5,327.6 666.8,322.5 670.6,325.1 666.8,330.2 654.0,334.0 645.1,336.6" fill="#cacaca" stroke="#111" stroke-width="1.3"/>
<polygon points="518.1,272.3 524.0,274.2 527.9,282.0 522.0,284.0 519.1,282.0" fill="#111" stroke="#111" stroke-width="1.3"/>
<polyline points="363.0,146.9 349.4,213.1 349.4,211.7 361.1,229.3 368.9,243.0 374.8,256.6 376.7,268.4" fill="none" stroke="#111" stroke-width="1.25" stroke-linejoin="round"/>
<polyline points="424.6,160.5 419.7,213.1 408.9,274.2" fill="none" stroke="#111" stroke-width="1.25" stroke-linejoin="round"/>
<polyline points="474.2,165.0 472.2,213.1 471.2,281.1" fill="none" stroke="#111" stroke-width="1.25" stroke-linejoin="round"/>
<polyline points="557.2,197.7 543.5,213.1 518.1,239.1 519.1,282.0" fill="none" stroke="#111" stroke-width="1.25" stroke-linejoin="round"/>
<polyline points="698.6,148.8 710.3,152.7 718.1,158.6 722.0,174.2 725.9,184.0" fill="none" stroke="#111" stroke-width="1.25" stroke-linejoin="round"/>
<polyline points="704.5,187.8 725.9,185.9 737.7,191.7 741.6,197.6 733.8,203.4 735.7,217.1 725.9,217.1 714.2,211.2 706.4,203.4 702.5,191.7 704.5,187.8" fill="none" stroke="#111" stroke-width="1.25" stroke-linejoin="round"/>
<polyline points="735.7,211.2 780.6,195.6" fill="none" stroke="#111" stroke-width="1.25" stroke-linejoin="round"/>
<polyline points="305.2,292.1 320.8,294.1 350.1,297.0" fill="none" stroke="#111" stroke-width="1.25" stroke-linejoin="round"/>
<polyline points="355.9,265.7 350.1,297.0 352.0,303.8 344.2,317.5 340.3,340.9" fill="none" stroke="#111" stroke-width="1.25" stroke-linejoin="round"/>
<polyline points="361.8,268.7 363.8,284.3 371.6,296.0 367.7,307.7 375.5,321.4 391.1,321.4 393.0,318.5 447.7,324.3" fill="none" stroke="#111" stroke-width="1.25" stroke-linejoin="round"/>
<polyline points="281.7,328.2 314.9,337.0 340.3,340.9 387.2,350.7" fill="none" stroke="#111" stroke-width="1.25" stroke-linejoin="round"/>
<polyline points="393.0,318.5 387.2,362.4 386.5,362.6 402.1,365.5 440.0,369.5 444.9,370.4 459.5,371.4 459.4,382.0 459.4,416.8" fill="none" stroke="#111" stroke-width="1.25" stroke-linejoin="round"/>
<polyline points="402.1,365.5 396.2,410.5" fill="none" stroke="#111" stroke-width="1.25" stroke-linejoin="round"/>
<polyline points="315.2,338.2 307.4,369.5 322.0,389.0 337.7,418.1 344.2,421.7 348.1,431.5 340.3,443.2 337.4,450.0" fill="none" stroke="#111" stroke-width="1.25" stroke-linejoin="round"/>
<polyline points="363.0,347.0 353.3,403.6 346.4,418.1 344.2,410.0" fill="none" stroke="#111" stroke-width="1.25" stroke-linejoin="round"/>
<polyline points="353.3,403.6 396.2,410.5 440.0,414.4 449.8,417.6 525.9,417.6" fill="none" stroke="#111" stroke-width="1.25" stroke-linejoin="round"/>
<polyline points="395.0,410.0 388.2,472.5" fill="none" stroke="#111" stroke-width="1.25" stroke-linejoin="round"/>
<polyline points="449.7,415.9 445.8,470.5 410.6,468.6" fill="none" stroke="#111" stroke-width="1.25" stroke-linejoin="round"/>
<polyline points="447.7,324.3 445.8,368.1 445.9,348.0" fill="none" stroke="#111" stroke-width="1.25" stroke-linejoin="round"/>
<polyline points="451.7,282.0 448.8,313.1" fill="none" stroke="#111" stroke-width="1.25" stroke-linejoin="round"/>
<polyline points="449.8,314.8 506.4,317.7" fill="none" stroke="#111" stroke-width="1.25" stroke-linejoin="round"/>
<polyline points="445.9,348.0 506.4,349.9 514.2,375.3 518.1,382.1 459.5,382.1" fill="none" stroke="#111" stroke-width="1.25" stroke-linejoin="round"/>
<polyline points="506.4,305.0 506.4,316.7 508.4,345.0 549.4,344.1" fill="none" stroke="#111" stroke-width="1.25" stroke-linejoin="round"/>
<polyline points="503.5,284.0 506.4,313.1" fill="none" stroke="#111" stroke-width="1.25" stroke-linejoin="round"/>
<polyline points="516.2,377.3 551.3,376.3" fill="none" stroke="#111" stroke-width="1.25" stroke-linejoin="round"/>
<polyline points="518.1,382.1 524.0,418.1 525.9,422.5 565.0,421.5" fill="none" stroke="#111" stroke-width="1.25" stroke-linejoin="round"/>
<polyline points="447.8,421.5 475.2,423.4 475.2,444.9 490.8,450.8 506.4,452.7 527.9,456.6 529.8,462.5 557.2,461.5" fill="none" stroke="#111" stroke-width="1.25" stroke-linejoin="round"/>
<polyline points="525.9,422.5 529.8,458.6" fill="none" stroke="#111" stroke-width="1.25" stroke-linejoin="round"/>
<polyline points="529.8,462.5 533.8,495.7" fill="none" stroke="#111" stroke-width="1.25" stroke-linejoin="round"/>
<polyline points="585.4,474.5 585.4,489.2" fill="none" stroke="#111" stroke-width="1.25" stroke-linejoin="round"/>
<polyline points="585.4,480.4 645.9,479.4 649.8,477.5" fill="none" stroke="#111" stroke-width="1.25" stroke-linejoin="round"/>
<polyline points="537.7,308.9 535.7,320.6 549.4,340.2 553.3,353.8 578.7,352.9" fill="none" stroke="#111" stroke-width="1.25" stroke-linejoin="round"/>
<polyline points="549.4,344.1 559.1,357.7 553.3,367.5 551.3,377.3 553.3,387.0 550.0,383.8" fill="none" stroke="#111" stroke-width="1.25" stroke-linejoin="round"/>
<polyline points="584.5,361.6 615.8,358.7" fill="none" stroke="#111" stroke-width="1.25" stroke-linejoin="round"/>
<polyline points="642.7,371.7 687.7,369.8" fill="none" stroke="#111" stroke-width="1.25" stroke-linejoin="round"/>
<polyline points="639.5,350.1 641.5,375.5 684.5,373.5" fill="none" stroke="#111" stroke-width="1.25" stroke-linejoin="round"/>
<polyline points="649.3,348.1 684.5,344.2 688.4,348.1 696.2,357.9 688.4,367.7 684.5,373.5" fill="none" stroke="#111" stroke-width="1.25" stroke-linejoin="round"/>
<polyline points="690.3,306.1 697.1,332.5 697.1,348.1" fill="none" stroke="#111" stroke-width="1.25" stroke-linejoin="round"/>
<polyline points="704.0,303.2 702.0,326.6" fill="none" stroke="#111" stroke-width="1.25" stroke-linejoin="round"/>
<polyline points="709.8,299.3 715.7,320.8" fill="none" stroke="#111" stroke-width="1.25" stroke-linejoin="round"/>
<polyline points="697.1,330.5 715.7,328.6" fill="none" stroke="#111" stroke-width="1.25" stroke-linejoin="round"/>
<polyline points="697.1,337.4 713.8,336.4" fill="none" stroke="#111" stroke-width="1.25" stroke-linejoin="round"/>
<polyline points="711.8,336.4 711.8,344.2" fill="none" stroke="#111" stroke-width="1.25" stroke-linejoin="round"/>
<polyline points="633.7,270.0 635.6,285.6 645.4,299.3 655.2,303.2 670.8,309.1" fill="none" stroke="#111" stroke-width="1.25" stroke-linejoin="round"/>
<polyline points="550.0,383.8 558.8,392.6 561.7,398.4 569.0,408.7 572.0,414.5 570.5,418.9 567.6,424.8 566.1,433.6 563.2,438.0 558.8,451.2 557.3,460.0 555.2,484.0 570.9,484.0" fill="none" stroke="#111" stroke-width="1.25" stroke-linejoin="round"/>
<polyline points="550.0,375.0 555.9,388.2 558.8,392.6" fill="none" stroke="#111" stroke-width="1.25" stroke-linejoin="round"/>
<polyline points="550.0,422.6 570.5,421.9 583.7,419.7 613.0,416.7 637.9,413.1 689.2,404.3" fill="none" stroke="#111" stroke-width="1.25" stroke-linejoin="round"/>
<polyline points="567.6,438.0 593.9,436.5 626.2,433.6 645.2,429.2 655.5,430.7 671.6,438.0" fill="none" stroke="#111" stroke-width="1.25" stroke-linejoin="round"/>
<polyline points="627.6,433.6 637.9,440.9 649.6,454.1 655.5,460.0" fill="none" stroke="#111" stroke-width="1.25" stroke-linejoin="round"/>
<polyline points="617.4,432.1 626.2,424.8 632.0,418.9 637.9,414.5" fill="none" stroke="#111" stroke-width="1.25" stroke-linejoin="round"/>
<polyline points="583.7,438.0 583.7,460.0 586.5,487.9" fill="none" stroke="#111" stroke-width="1.25" stroke-linejoin="round"/>
<polyline points="607.1,436.5 613.0,460.0 619.7,482.0" fill="none" stroke="#111" stroke-width="1.25" stroke-linejoin="round"/>
<polyline points="582.6,361.6 583.7,375.0 585.2,395.5 580.8,404.3 591.0,402.8 598.3,399.9 604.2,394.0 608.6,389.6 618.8,392.6 627.6,391.1" fill="none" stroke="#111" stroke-width="1.25" stroke-linejoin="round"/>
<polyline points="605.7,359.5 607.1,375.0 608.6,389.6" fill="none" stroke="#111" stroke-width="1.25" stroke-linejoin="round"/>
<polyline points="627.6,391.1 632.0,397.0 629.1,404.3 635.0,405.8 640.8,404.3 649.6,397.0 655.5,389.6 661.3,383.8 652.5,380.9 640.8,377.9 637.9,375.0" fill="none" stroke="#111" stroke-width="1.25" stroke-linejoin="round"/>
<polyline points="613.0,416.7 623.2,413.1 629.1,407.2 629.1,404.3" fill="none" stroke="#111" stroke-width="1.25" stroke-linejoin="round"/>
<polyline points="627.6,391.1 633.5,383.8 640.8,375.0" fill="none" stroke="#111" stroke-width="1.25" stroke-linejoin="round"/>
<polyline points="640.0,295.8 647.6,299.7 656.6,302.2 665.5,306.0 673.1,304.7 680.7,303.5" fill="none" stroke="#111" stroke-width="1.25" stroke-linejoin="round"/>
<polyline points="671.8,307.3 680.7,303.5 690.0,305.6 704.1,301.7 708.8,296.2 711.1,284.5 713.4,272.8 715.8,273.6 721.2,271.2 724.4,272.8 727.5,280.6 730.6,287.7 733.8,290.8 738.4,293.1" fill="none" stroke="#111" stroke-width="1.25" stroke-linejoin="round"/>
<polyline points="629.8,245.6 631.8,257.3 635.7,278.8 639.6,292.5 649.4,300.3 640.0,295.8" fill="none" stroke="#111" stroke-width="1.25" stroke-linejoin="round"/>
<polyline points="724.4,272.8 730.0,266.0 738.0,261.0 745.0,259.0" fill="none" stroke="#111" stroke-width="1.25" stroke-linejoin="round"/>
<polygon points="253.7,107.4 300.0,124.5 363.0,146.9 400.0,155.5 440.0,162.1 474.2,165.0 519.1,166.4 520.1,177.1 528.9,179.1 535.7,196.7 545.5,193.8 557.2,197.7 565.0,200.0 576.7,205.9 588.4,209.8 604.0,210.7 606.0,219.5 610.0,233.2 619.7,239.0 627.5,246.9 633.4,244.9 633.4,233.2 625.5,219.5 623.6,211.7 633.4,203.9 637.3,200.0 640.0,193.8 638.2,184.0 633.4,176.2 620.7,168.4 625.5,162.5 625.5,152.7 617.7,148.8 623.6,146.9 619.7,139.0 617.7,130.3 640.0,127.3 657.6,133.2 671.2,135.2 676.1,150.8 679.0,156.6 690.8,156.6 698.6,148.8 700.5,128.3 708.4,135.2 722.0,146.9 731.8,158.6 745.5,167.4 757.2,169.3 768.9,170.3 776.7,176.2 786.5,182.0 788.4,192.0 782.0,196.0 775.0,210.0 768.9,221.0 759.7,225.0 742.0,230.0 732.2,232.9 724.3,236.9 721.4,242.8 719.4,248.6 714.5,251.6 710.6,258.5 708.6,265.3 704.7,272.2 701.8,279.1 698.5,284.0 700.5,285.0 705.7,279.1 710.6,271.2 715.5,263.4 721.4,257.5 729.3,249.6 737.1,244.7 743.0,244.2 745.6,249.6 743.3,255.5 745.6,259.0 745.6,264.8 750.3,271.9 755.0,273.0 753.8,277.7 758.0,278.0 766.1,276.1 775.3,273.8 776.5,262.0 776.5,255.4 781.1,256.5 788.0,263.4 782.2,271.5 777.6,277.3 766.1,285.3 756.9,296.9 751.1,305.0 747.0,303.0 745.4,298.0 750.0,289.0 754.6,283.0 752.3,278.4 745.0,287.0 738.4,293.4 729.4,303.2 719.6,311.0 715.7,320.8 717.7,328.6 721.6,332.5 725.5,334.5 721.6,338.4 715.7,338.4 711.8,342.3 705.9,346.2 696.2,354.0 695.5,360.0 691.6,371.7 687.7,383.4 691.6,393.2 687.7,399.0 695.5,410.8 696.4,416.6 689.6,422.5 681.8,430.3 674.0,436.2 668.1,444.0 660.3,451.8 654.5,461.6 650.5,473.1 652.3,480.0 659.2,493.8 666.1,504.8 670.5,514.0 672.3,521.3 672.5,530.0 671.6,537.8 666.0,539.0 663.4,536.5 655.1,526.8 646.8,517.2 642.7,510.3 640.0,497.9 638.1,494.1 632.3,490.2 626.4,489.2 616.6,493.1 608.8,488.2 599.1,487.2 589.3,489.2 577.6,492.1 571.7,491.1 577.6,503.8 569.8,501.9 560.9,502.3 549.9,500.7 532.7,499.1 521.8,502.3 510.8,511.7 501.4,519.5 498.3,530.4 498.3,542.2 487.3,538.3 479.5,532.0 473.2,521.1 467.0,507.0 459.1,497.6 445.0,497.6 440.4,505.4 429.4,496.0 426.3,488.2 418.4,474.5 414.5,470.5 410.6,468.6 397.0,469.6 395.0,473.5 387.2,472.5 367.7,469.6 337.4,450.0 314.9,446.1 309.1,431.5 299.3,423.7 289.5,415.9 289.5,410.0 288.8,402.7 284.9,387.0 280.0,373.4 279.0,363.6 276.1,348.0 277.1,342.1 282.0,326.5 284.0,316.7 288.0,308.0 292.3,298.0 296.2,288.2 298.2,282.3 299.2,269.5 298.2,259.7 306.0,258.0 313.0,254.0 312.3,252.7 298.6,235.2 286.9,223.4 283.0,201.6 277.1,185.9 267.3,172.3 262.5,156.6 258.6,139.0 259.5,125.4 248.8,110.7" fill="none" stroke="#111" stroke-width="1.2" stroke-linejoin="round"/>
<polygon points="279.0,223.4 286.9,229.3 300.5,248.8 312.3,256.6 314.2,262.5 306.4,262.5 298.6,254.7 288.8,239.0 280.0,225.4" fill="none" stroke="#111" stroke-width="1.2" stroke-linejoin="round"/>
<polygon points="260.5,178.0 268.0,181.0 272.2,186.0 268.0,195.0 265.0,205.5 262.0,196.0 260.0,185.0" fill="none" stroke="#111" stroke-width="1.2" stroke-linejoin="round"/>
<polygon points="784.5,197.6 792.3,195.6 794.3,209.3 804.0,213.2 811.9,209.3 819.7,217.1 823.6,224.9 832.0,228.0 830.0,238.0 819.7,234.7 811.9,242.5 808.0,236.6 796.2,238.6 788.4,240.5 782.6,244.5 781.6,238.6 788.4,230.8 786.5,219.0" fill="none" stroke="#111" stroke-width="1.2" stroke-linejoin="round"/>
<polygon points="739.8,234.4 752.0,235.0 762.0,236.7 752.7,239.6 741.0,237.2" fill="none" stroke="#111" stroke-width="1.2" stroke-linejoin="round"/>
<polygon points="751.5,266.0 760.0,265.5 769.0,266.0 766.7,271.9 755.0,270.7" fill="none" stroke="#111" stroke-width="1.2" stroke-linejoin="round"/>
<polygon points="697.0,353.0 705.0,349.0 712.0,346.0 711.0,349.0 700.0,355.0" fill="none" stroke="#111" stroke-width="1.2" stroke-linejoin="round"/>
<polyline points="314.9,254.9 356.0,264.6 406.7,272.5" fill="none" stroke="#e8e0e8" stroke-width="1"/>
<polyline points="314.9,256.4 356.0,266.1 406.7,274.0 451.6,279.8 471.2,281.4 519.1,283.4 527.9,284.4 545.5,290.2 556.0,292.4" fill="none" stroke="#1a1a1a" stroke-width="1.7"/>
<polyline points="670.9,321.8 676.0,314.0 684.5,306.2 692.0,297.0 698.0,287.0 703.0,279.0" fill="none" stroke="#222" stroke-width="2.6"/>
<polyline points="670.9,321.8 676.0,314.0 684.5,306.2 692.0,297.0 698.0,287.0 703.0,279.0" fill="none" stroke="#bbb" stroke-width="1"/>
<polygon points="248.2,111.3 252.0,118.0 258.7,128.0 257.5,140.0 260.0,155.0 264.0,165.0 268.0,172.0 276.0,180.0 281.0,187.0 290.0,187.0 289.4,170.0 289.5,166.7 281.7,153.4 279.8,145.0 279.0,132.8 276.7,125.8 274.4,118.8 264.0,118.0 258.8,119.5 253.7,106.2" fill="#b0b0b0" stroke="#111" stroke-width="1.2"/>
<polyline points="268.7,140.7 269.4,141.4 269.6,142.6 267.4,144.1" fill="none" stroke="#111" stroke-width="1.2" stroke-linecap="round"/>
<polyline points="264.1,124.5 263.8,126.6 261.9,127.6 262.5,130.0" fill="none" stroke="#111" stroke-width="1.2" stroke-linecap="round"/>
<polyline points="277.2,182.5 279.0,183.6 277.2,184.3 276.3,186.4" fill="none" stroke="#111" stroke-width="1.2" stroke-linecap="round"/>
<polyline points="276.1,160.9 276.3,161.5 274.1,162.4 275.0,163.8" fill="none" stroke="#111" stroke-width="1.2" stroke-linecap="round"/>
<polyline points="272.4,149.0 273.9,150.9 272.6,152.6 272.7,154.8" fill="none" stroke="#111" stroke-width="1.2" stroke-linecap="round"/>
<polyline points="278.1,182.7 277.7,184.7 276.0,186.2 273.7,188.1" fill="none" stroke="#111" stroke-width="1.2" stroke-linecap="round"/>
<polyline points="278.9,176.0 279.9,177.7 280.3,179.1 282.0,181.5" fill="none" stroke="#111" stroke-width="1.2" stroke-linecap="round"/>
<polyline points="271.3,123.9 272.1,126.4 273.7,127.4 273.1,129.3" fill="none" stroke="#111" stroke-width="1.2" stroke-linecap="round"/>
<polyline points="265.9,130.8 263.7,132.8 261.9,133.8 261.3,136.0" fill="none" stroke="#111" stroke-width="1.2" stroke-linecap="round"/>
<polyline points="280.8,155.2 282.4,157.4 281.3,158.7 280.6,161.0" fill="none" stroke="#111" stroke-width="1.2" stroke-linecap="round"/>
<polyline points="267.4,131.3 266.1,132.7 266.5,133.8 264.1,135.1" fill="none" stroke="#111" stroke-width="1.2" stroke-linecap="round"/>
<polyline points="284.6,181.0 284.7,182.7 285.5,183.3 287.5,185.4" fill="none" stroke="#111" stroke-width="1.2" stroke-linecap="round"/>
<polyline points="272.7,145.1 270.7,146.9 268.5,147.5 267.0,148.3" fill="none" stroke="#111" stroke-width="1.2" stroke-linecap="round"/>
<polyline points="263.8,120.0 261.8,121.2 259.5,123.5 260.0,124.3" fill="none" stroke="#111" stroke-width="1.2" stroke-linecap="round"/>
<polyline points="268.9,143.3 270.7,145.8 270.5,147.3 268.4,148.0" fill="none" stroke="#111" stroke-width="1.2" stroke-linecap="round"/>
<polyline points="276.4,173.0 274.0,175.4 274.1,176.2 274.3,176.8" fill="none" stroke="#111" stroke-width="1.2" stroke-linecap="round"/>
<polyline points="283.3,175.3 282.1,176.5 280.4,178.5 280.6,180.6" fill="none" stroke="#111" stroke-width="1.2" stroke-linecap="round"/>
<polyline points="286.0,171.9 287.8,174.0 289.3,176.0 288.0,177.6" fill="none" stroke="#111" stroke-width="1.2" stroke-linecap="round"/>
<polyline points="265.8,121.8 264.6,123.7 266.9,125.1 269.0,127.5" fill="none" stroke="#111" stroke-width="1.2" stroke-linecap="round"/>
<polyline points="268.0,134.1 266.5,135.0 267.1,137.3 268.8,138.8" fill="none" stroke="#111" stroke-width="1.2" stroke-linecap="round"/>
<polyline points="271.2,125.4 273.2,127.5 274.5,128.9 272.9,131.0" fill="none" stroke="#111" stroke-width="1.2" stroke-linecap="round"/>
<polyline points="281.3,182.2 280.8,184.6 282.0,185.4 280.1,186.2" fill="none" stroke="#111" stroke-width="1.2" stroke-linecap="round"/>
<polyline points="274.1,129.4 276.5,131.2 275.8,132.8 273.9,133.3" fill="none" stroke="#111" stroke-width="1.2" stroke-linecap="round"/>
<polyline points="281.1,153.7 280.8,155.9 282.4,156.9 281.2,158.0" fill="none" stroke="#111" stroke-width="1.2" stroke-linecap="round"/>
<polyline points="270.9,136.6 269.1,138.9 268.3,140.3 268.8,142.6" fill="none" stroke="#111" stroke-width="1.2" stroke-linecap="round"/>
<polyline points="275.9,152.1 276.0,152.6 275.7,153.5 273.2,155.6" fill="none" stroke="#111" stroke-width="1.2" stroke-linecap="round"/>
<polyline points="279.6,166.4 278.7,167.9 279.0,170.0 277.0,171.6" fill="none" stroke="#111" stroke-width="1.2" stroke-linecap="round"/>
<polyline points="279.7,169.4 280.0,171.4 282.0,172.8 282.6,174.3" fill="none" stroke="#111" stroke-width="1.2" stroke-linecap="round"/>
<polyline points="275.2,149.0 275.1,151.3 276.1,153.6 278.3,154.6" fill="none" stroke="#111" stroke-width="1.2" stroke-linecap="round"/>
<polyline points="276.2,173.8 274.4,175.1 272.2,176.1 270.1,178.0" fill="none" stroke="#111" stroke-width="1.2" stroke-linecap="round"/>
<polyline points="272.9,129.9 273.7,130.7 275.6,133.1 274.2,135.5" fill="none" stroke="#111" stroke-width="1.2" stroke-linecap="round"/>
<polyline points="286.8,183.4 285.1,184.7 285.2,185.9 283.7,187.0" fill="none" stroke="#111" stroke-width="1.2" stroke-linecap="round"/>
<polyline points="275.6,155.5 273.2,156.6 273.8,158.1 271.6,160.6" fill="none" stroke="#111" stroke-width="1.2" stroke-linecap="round"/>
<polyline points="266.8,126.7 264.5,128.8 263.3,129.5 262.9,131.8" fill="none" stroke="#111" stroke-width="1.2" stroke-linecap="round"/>
<polyline points="275.3,129.6 275.6,131.5 273.6,132.1 274.5,133.4" fill="none" stroke="#111" stroke-width="1.2" stroke-linecap="round"/>
<polyline points="281.1,160.6 279.1,162.8 276.9,165.0 276.7,166.2" fill="none" stroke="#111" stroke-width="1.2" stroke-linecap="round"/>
<polyline points="267.6,137.1 267.7,138.1 265.8,138.9 263.5,139.8" fill="none" stroke="#111" stroke-width="1.2" stroke-linecap="round"/>
<polyline points="276.9,168.6 276.9,169.5 276.1,170.0 274.9,170.5" fill="none" stroke="#111" stroke-width="1.2" stroke-linecap="round"/>
<polyline points="270.5,132.1 272.7,132.8 274.3,134.2 274.3,136.4" fill="none" stroke="#111" stroke-width="1.2" stroke-linecap="round"/>
<polyline points="284.1,164.0 283.3,166.2 284.4,168.0 283.9,169.1" fill="none" stroke="#111" stroke-width="1.2" stroke-linecap="round"/>
<polyline points="272.0,124.5 270.7,125.4 268.7,127.5 270.5,129.4" fill="none" stroke="#111" stroke-width="1.2" stroke-linecap="round"/>
<polyline points="271.9,138.8 270.2,140.1 269.0,142.6 271.4,144.2" fill="none" stroke="#111" stroke-width="1.2" stroke-linecap="round"/>
<polyline points="270.9,139.8 268.4,141.1 268.3,142.6 266.8,144.1" fill="none" stroke="#111" stroke-width="1.2" stroke-linecap="round"/>
<polyline points="268.1,125.7 265.8,126.3 264.9,127.3 265.3,128.8" fill="none" stroke="#111" stroke-width="1.2" stroke-linecap="round"/>
<polyline points="283.3,165.8 282.7,167.0 285.2,167.8 286.3,169.6" fill="none" stroke="#111" stroke-width="1.2" stroke-linecap="round"/>
<polyline points="282.9,177.1 284.1,179.2 282.3,180.8 282.3,182.9" fill="none" stroke="#111" stroke-width="1.2" stroke-linecap="round"/>
<polyline points="281.5,157.4 282.4,159.3 281.0,159.8 279.2,161.1" fill="none" stroke="#111" stroke-width="1.2" stroke-linecap="round"/>
<polyline points="277.9,155.7 278.5,157.6 278.5,158.1 280.0,160.1" fill="none" stroke="#111" stroke-width="1.2" stroke-linecap="round"/>
<polyline points="272.7,162.2 273.9,163.2 271.7,164.2 272.9,165.1" fill="none" stroke="#111" stroke-width="1.2" stroke-linecap="round"/>
<polyline points="274.0,151.6 273.9,153.5 275.2,155.2 275.9,155.9" fill="none" stroke="#111" stroke-width="1.2" stroke-linecap="round"/>
<polyline points="276.8,167.6 277.1,168.1 274.9,169.1 275.8,171.0" fill="none" stroke="#111" stroke-width="1.2" stroke-linecap="round"/>
<polyline points="275.3,153.1 275.2,153.8 277.1,154.7 279.5,157.1" fill="none" stroke="#111" stroke-width="1.2" stroke-linecap="round"/>
<polyline points="285.9,172.5 285.7,173.5 284.2,175.9 282.8,177.6" fill="none" stroke="#111" stroke-width="1.2" stroke-linecap="round"/>
<polyline points="277.9,181.0 279.5,182.5 281.4,184.4 280.1,186.7" fill="none" stroke="#111" stroke-width="1.2" stroke-linecap="round"/>
<polyline points="268.0,120.2 267.7,121.3 265.9,122.5 265.0,124.7" fill="none" stroke="#111" stroke-width="1.2" stroke-linecap="round"/>
<polyline points="276.0,173.7 278.2,175.6 280.2,176.7 279.5,178.0" fill="none" stroke="#111" stroke-width="1.2" stroke-linecap="round"/>
<polyline points="272.5,143.1 271.4,143.7 269.4,145.9 268.4,148.2" fill="none" stroke="#111" stroke-width="1.2" stroke-linecap="round"/>
<polyline points="271.9,152.7 271.3,155.1 273.2,157.2 273.9,159.6" fill="none" stroke="#111" stroke-width="1.2" stroke-linecap="round"/>
<polyline points="273.4,166.1 274.5,167.5 275.8,169.2 274.7,169.8" fill="none" stroke="#111" stroke-width="1.2" stroke-linecap="round"/>
<polyline points="273.2,150.2 272.2,152.2 274.6,153.2 275.4,154.3" fill="none" stroke="#111" stroke-width="1.2" stroke-linecap="round"/>
<polyline points="266.4,130.7 265.0,133.0 265.0,134.0 267.0,136.5" fill="none" stroke="#111" stroke-width="1.2" stroke-linecap="round"/>
<polyline points="266.0,132.3 265.2,133.0 263.9,134.0 264.2,136.3" fill="none" stroke="#111" stroke-width="1.2" stroke-linecap="round"/>
<polyline points="274.5,146.5 273.9,147.7 271.7,148.7 274.0,149.5" fill="none" stroke="#111" stroke-width="1.2" stroke-linecap="round"/>
<polyline points="277.5,175.2 276.4,176.2 275.9,177.6 278.2,179.8" fill="none" stroke="#111" stroke-width="1.2" stroke-linecap="round"/>
<polyline points="271.0,122.1 273.0,123.5 273.4,124.0 272.9,126.4" fill="none" stroke="#111" stroke-width="1.2" stroke-linecap="round"/>
<polyline points="279.6,182.2 277.6,183.0 277.7,184.9 279.9,186.8" fill="none" stroke="#111" stroke-width="1.2" stroke-linecap="round"/>
<polyline points="275.5,149.3 273.2,151.3 271.8,153.7 272.6,154.8" fill="none" stroke="#111" stroke-width="1.2" stroke-linecap="round"/>
<polyline points="279.9,160.7 278.0,161.4 278.1,163.0 277.6,164.0" fill="none" stroke="#111" stroke-width="1.2" stroke-linecap="round"/>
<polyline points="272.1,139.3 274.3,141.1 276.3,142.5 274.9,143.5" fill="none" stroke="#111" stroke-width="1.2" stroke-linecap="round"/>
<polyline points="266.9,139.7 266.9,141.5 266.5,142.5 267.3,144.9" fill="none" stroke="#111" stroke-width="1.2" stroke-linecap="round"/>
<polyline points="272.1,141.6 273.0,142.5 274.5,144.5 274.5,145.4" fill="none" stroke="#111" stroke-width="1.2" stroke-linecap="round"/>
<polyline points="277.1,172.5 275.7,174.5 274.7,176.9 274.6,177.8" fill="none" stroke="#111" stroke-width="1.2" stroke-linecap="round"/>
<polyline points="283.4,162.6 281.6,163.9 280.2,166.3 278.4,166.9" fill="none" stroke="#111" stroke-width="1.2" stroke-linecap="round"/>
<polyline points="286.1,177.5 287.2,180.0 289.4,181.1 287.8,183.5" fill="none" stroke="#111" stroke-width="1.2" stroke-linecap="round"/>
<polyline points="276.5,162.5 275.9,163.7 274.2,164.2 273.1,165.4" fill="none" stroke="#111" stroke-width="1.2" stroke-linecap="round"/>
<polyline points="279.0,181.7 278.2,183.9 279.8,185.2 277.6,186.7" fill="none" stroke="#111" stroke-width="1.2" stroke-linecap="round"/>
<polyline points="269.3,132.4 271.3,132.9 270.8,135.0 272.1,135.6" fill="none" stroke="#111" stroke-width="1.2" stroke-linecap="round"/>
<polyline points="278.9,178.9 280.1,181.2 279.3,182.2 281.6,184.0" fill="none" stroke="#111" stroke-width="1.2" stroke-linecap="round"/>
<polyline points="270.1,140.3 267.6,142.3 269.7,144.0 271.9,144.6" fill="none" stroke="#111" stroke-width="1.2" stroke-linecap="round"/>
<polyline points="287.8,181.2 287.2,182.2 286.9,183.7 289.0,184.6" fill="none" stroke="#111" stroke-width="1.2" stroke-linecap="round"/>
<polyline points="283.6,172.7 284.2,173.8 283.2,175.0 284.7,175.7" fill="none" stroke="#111" stroke-width="1.2" stroke-linecap="round"/>
<polyline points="266.5,135.8 264.2,137.4 263.3,139.9 265.2,142.4" fill="none" stroke="#111" stroke-width="1.2" stroke-linecap="round"/>
<polyline points="269.4,126.2 270.5,127.6 269.1,128.9 269.7,130.7" fill="none" stroke="#111" stroke-width="1.2" stroke-linecap="round"/>
<polyline points="273.4,162.5 275.1,163.6 275.5,164.9 276.6,165.8" fill="none" stroke="#111" stroke-width="1.2" stroke-linecap="round"/>
<polyline points="274.9,129.8 275.3,131.0 274.8,133.5 274.8,134.4" fill="none" stroke="#111" stroke-width="1.2" stroke-linecap="round"/>
<polyline points="278.1,183.4 278.0,185.6 279.7,187.9 277.4,189.0" fill="none" stroke="#111" stroke-width="1.2" stroke-linecap="round"/>
<polyline points="283.6,182.3 285.7,183.5 287.6,184.9 286.4,187.0" fill="none" stroke="#111" stroke-width="1.2" stroke-linecap="round"/>
<polyline points="278.4,158.2 277.0,159.4 275.2,160.3 274.0,162.0" fill="none" stroke="#111" stroke-width="1.2" stroke-linecap="round"/>
<polyline points="266.1,120.7 267.0,121.6 266.1,122.5 267.5,124.1" fill="none" stroke="#111" stroke-width="1.2" stroke-linecap="round"/>
<polyline points="274.5,145.3 275.2,146.0 273.5,147.9 273.1,148.9" fill="none" stroke="#111" stroke-width="1.2" stroke-linecap="round"/>
<polyline points="273.5,140.0 272.8,141.3 274.6,143.8 273.9,144.7" fill="none" stroke="#111" stroke-width="1.2" stroke-linecap="round"/>
<polyline points="272.9,120.4 272.5,122.5 272.1,124.8 271.9,125.6" fill="none" stroke="#111" stroke-width="1.2" stroke-linecap="round"/>
<polyline points="282.5,161.0 280.5,162.7 279.8,164.3 278.1,165.3" fill="none" stroke="#111" stroke-width="1.2" stroke-linecap="round"/>
<polyline points="269.5,127.0 271.0,129.4 269.5,130.1 271.7,132.6" fill="none" stroke="#111" stroke-width="1.2" stroke-linecap="round"/>
<polyline points="280.5,179.3 282.6,181.0 284.2,181.8 285.6,182.8" fill="none" stroke="#111" stroke-width="1.2" stroke-linecap="round"/>
<polyline points="276.6,173.1 275.2,174.4 275.3,175.6 273.4,176.6" fill="none" stroke="#111" stroke-width="1.2" stroke-linecap="round"/>
<polyline points="269.4,122.6 270.7,123.2 272.3,123.9 272.8,125.5" fill="none" stroke="#111" stroke-width="1.2" stroke-linecap="round"/>
<polyline points="275.3,146.9 274.9,148.7 274.7,150.1 272.3,151.8" fill="none" stroke="#111" stroke-width="1.2" stroke-linecap="round"/>
<polyline points="282.8,168.9 282.6,169.7 282.5,170.4 280.6,171.8" fill="none" stroke="#111" stroke-width="1.2" stroke-linecap="round"/>
<polyline points="270.1,152.7 270.8,153.3 272.0,155.4 272.0,156.0" fill="none" stroke="#111" stroke-width="1.2" stroke-linecap="round"/>
<polyline points="277.9,180.9 279.7,183.3 280.8,185.5 279.3,187.9" fill="none" stroke="#111" stroke-width="1.2" stroke-linecap="round"/>
<polyline points="277.7,178.6 279.2,181.0 277.0,182.2 278.3,183.0" fill="none" stroke="#111" stroke-width="1.2" stroke-linecap="round"/>
<polyline points="276.0,172.2 276.0,174.5 274.5,175.6 274.5,176.7" fill="none" stroke="#111" stroke-width="1.2" stroke-linecap="round"/>
<polyline points="275.7,130.3 276.6,132.6 274.9,134.7 273.0,136.2" fill="none" stroke="#111" stroke-width="1.2" stroke-linecap="round"/>
<polyline points="281.8,175.9 282.2,178.1 280.2,180.6 280.8,181.9" fill="none" stroke="#111" stroke-width="1.2" stroke-linecap="round"/>
<polyline points="283.8,183.4 283.1,185.4 282.8,186.3 284.0,186.9" fill="none" stroke="#111" stroke-width="1.2" stroke-linecap="round"/>
<polyline points="283.4,160.9 283.8,162.7 282.9,163.2 280.6,164.0" fill="none" stroke="#111" stroke-width="1.2" stroke-linecap="round"/>
<polyline points="280.4,152.8 278.6,153.8 279.4,154.3 276.9,155.5" fill="none" stroke="#111" stroke-width="1.2" stroke-linecap="round"/>
<polyline points="272.4,134.4 272.8,135.3 273.4,136.7 271.6,139.1" fill="none" stroke="#111" stroke-width="1.2" stroke-linecap="round"/>
<polyline points="271.1,126.1 273.0,128.2 272.5,129.2 270.0,131.0" fill="none" stroke="#111" stroke-width="1.2" stroke-linecap="round"/>
<polyline points="277.0,161.3 279.2,163.3 277.9,165.6 275.7,167.2" fill="none" stroke="#111" stroke-width="1.2" stroke-linecap="round"/>
<polyline points="272.2,123.7 269.8,125.3 272.0,126.1 270.5,127.8" fill="none" stroke="#111" stroke-width="1.2" stroke-linecap="round"/>
<polyline points="276.3,172.1 275.3,173.2 273.1,175.4 274.5,177.4" fill="none" stroke="#111" stroke-width="1.2" stroke-linecap="round"/>
<polyline points="278.8,167.7 280.0,169.1 278.6,169.8 277.3,170.4" fill="none" stroke="#111" stroke-width="1.2" stroke-linecap="round"/>
<polyline points="282.6,164.5 283.6,165.5 283.9,166.9 285.3,168.4" fill="none" stroke="#111" stroke-width="1.2" stroke-linecap="round"/>
<polyline points="279.1,181.8 281.0,182.3 279.8,183.3 281.0,185.7" fill="none" stroke="#111" stroke-width="1.2" stroke-linecap="round"/>
<polyline points="279.1,176.3 277.8,178.6 278.5,180.5 279.3,183.0" fill="none" stroke="#111" stroke-width="1.2" stroke-linecap="round"/>
<polyline points="282.8,164.6 282.4,166.6 282.8,167.7 281.4,169.5" fill="none" stroke="#111" stroke-width="1.2" stroke-linecap="round"/>
<polyline points="264.5,129.3 262.5,131.6 261.7,132.4 259.4,133.0" fill="none" stroke="#111" stroke-width="1.2" stroke-linecap="round"/>
<polyline points="281.3,164.6 279.1,166.3 278.4,168.4 280.0,170.7" fill="none" stroke="#111" stroke-width="1.2" stroke-linecap="round"/>
<polyline points="287.0,178.5 285.1,179.4 283.1,180.0 284.9,182.1" fill="none" stroke="#111" stroke-width="1.2" stroke-linecap="round"/>
<polyline points="274.9,160.4 272.9,161.1 274.2,162.0 273.3,163.4" fill="none" stroke="#111" stroke-width="1.2" stroke-linecap="round"/>
<polyline points="274.8,138.1 274.2,139.2 276.5,140.7 278.2,142.5" fill="none" stroke="#111" stroke-width="1.2" stroke-linecap="round"/>
<polyline points="277.8,147.9 277.1,149.8 277.2,150.8 279.1,151.5" fill="none" stroke="#111" stroke-width="1.2" stroke-linecap="round"/>
<polyline points="264.4,120.1 265.8,122.5 263.3,124.0 263.2,126.1" fill="none" stroke="#111" stroke-width="1.2" stroke-linecap="round"/>
<polyline points="277.2,142.2 276.0,144.6 274.9,145.5 275.9,147.0" fill="none" stroke="#111" stroke-width="1.2" stroke-linecap="round"/>
<polyline points="272.7,125.2 273.7,127.3 274.3,128.5 273.8,129.8" fill="none" stroke="#111" stroke-width="1.2" stroke-linecap="round"/>
<polyline points="275.6,176.9 274.2,177.9 276.2,179.4 275.6,181.7" fill="none" stroke="#111" stroke-width="1.2" stroke-linecap="round"/>
<polyline points="279.0,154.0 280.3,155.8 279.5,157.0 277.8,159.2" fill="none" stroke="#111" stroke-width="1.2" stroke-linecap="round"/>
<polyline points="269.8,130.9 271.2,132.5 269.3,133.9 271.2,134.9" fill="none" stroke="#111" stroke-width="1.2" stroke-linecap="round"/>
<polyline points="282.7,165.0 280.9,165.8 279.7,167.0 279.8,167.8" fill="none" stroke="#111" stroke-width="1.2" stroke-linecap="round"/>
<polyline points="285.4,182.4 283.4,184.8 281.4,186.1 283.8,188.2" fill="none" stroke="#111" stroke-width="1.2" stroke-linecap="round"/>
<polyline points="272.6,132.6 270.6,133.5 270.1,134.0 269.6,136.1" fill="none" stroke="#111" stroke-width="1.2" stroke-linecap="round"/>
<polyline points="277.0,160.5 275.3,162.2 274.8,164.2 276.8,165.5" fill="none" stroke="#111" stroke-width="1.2" stroke-linecap="round"/>
<polyline points="271.1,147.0 272.2,149.2 273.5,151.1 275.3,153.0" fill="none" stroke="#111" stroke-width="1.2" stroke-linecap="round"/>
<polyline points="274.2,140.0 272.2,141.4 273.6,143.3 274.3,144.3" fill="none" stroke="#111" stroke-width="1.2" stroke-linecap="round"/>
<polyline points="276.2,159.8 277.1,162.1 275.5,163.9 276.9,165.2" fill="none" stroke="#111" stroke-width="1.2" stroke-linecap="round"/>
<polyline points="269.1,122.4 267.4,124.5 269.6,126.0 267.6,127.7" fill="none" stroke="#111" stroke-width="1.2" stroke-linecap="round"/>
<polyline points="277.4,152.8 279.0,154.3 278.6,156.7 277.1,158.6" fill="none" stroke="#111" stroke-width="1.2" stroke-linecap="round"/>
<polyline points="275.6,127.8 274.9,128.4 273.8,129.7 271.4,131.1" fill="none" stroke="#111" stroke-width="1.2" stroke-linecap="round"/>
<polyline points="270.5,142.5 269.1,144.5 271.3,146.1 269.9,148.2" fill="none" stroke="#111" stroke-width="1.2" stroke-linecap="round"/>
<polyline points="273.3,128.3 274.8,130.0 274.7,131.7 273.3,134.1" fill="none" stroke="#111" stroke-width="1.2" stroke-linecap="round"/>
<polyline points="284.1,172.4 283.9,173.5 284.2,174.2 285.8,175.4" fill="none" stroke="#111" stroke-width="1.2" stroke-linecap="round"/>
<polyline points="270.7,144.1 270.3,144.9 267.8,146.9 266.7,147.9" fill="none" stroke="#111" stroke-width="1.2" stroke-linecap="round"/>
<polyline points="276.1,147.4 276.9,148.6 279.0,150.9 276.8,153.0" fill="none" stroke="#111" stroke-width="1.2" stroke-linecap="round"/>
<polyline points="274.1,129.0 274.7,129.5 272.3,131.9 273.1,132.9" fill="none" stroke="#111" stroke-width="1.2" stroke-linecap="round"/>
<polyline points="274.8,135.0 274.1,135.8 276.1,137.8 274.4,140.1" fill="none" stroke="#111" stroke-width="1.2" stroke-linecap="round"/>
<polyline points="282.8,162.8 284.2,165.0 282.7,166.8 282.8,168.8" fill="none" stroke="#111" stroke-width="1.2" stroke-linecap="round"/>
<polyline points="273.5,155.5 272.2,156.3 272.1,156.9 272.0,157.7" fill="none" stroke="#111" stroke-width="1.2" stroke-linecap="round"/>
<polyline points="280.4,154.5 278.0,156.7 277.8,158.3 278.6,160.5" fill="none" stroke="#111" stroke-width="1.2" stroke-linecap="round"/>
<polyline points="306.5,249.3 307.4,251.1 304.5,252.8" fill="none" stroke="#111" stroke-width="1.0" stroke-linecap="round"/>
<polyline points="296.8,206.5 296.8,207.9 299.2,208.5" fill="none" stroke="#111" stroke-width="1.0" stroke-linecap="round"/>
<polyline points="296.0,207.0 295.2,208.5 295.4,210.5" fill="none" stroke="#111" stroke-width="1.0" stroke-linecap="round"/>
<polyline points="295.8,212.7 297.8,213.8 299.8,215.1" fill="none" stroke="#111" stroke-width="1.0" stroke-linecap="round"/>
<polyline points="301.5,218.4 302.4,220.5 301.4,221.7" fill="none" stroke="#111" stroke-width="1.0" stroke-linecap="round"/>
<polyline points="303.4,227.2 300.7,229.1 303.0,230.7" fill="none" stroke="#111" stroke-width="1.0" stroke-linecap="round"/>
<polyline points="281.7,184.4 284.2,186.1 285.2,188.2" fill="none" stroke="#111" stroke-width="1.0" stroke-linecap="round"/>
<polyline points="301.7,225.9 302.8,227.6 303.9,228.6" fill="none" stroke="#111" stroke-width="1.0" stroke-linecap="round"/>
<polyline points="301.4,235.9 299.5,236.4 301.1,238.8" fill="none" stroke="#111" stroke-width="1.0" stroke-linecap="round"/>
<polyline points="308.5,239.9 308.9,241.0 307.7,242.3" fill="none" stroke="#111" stroke-width="1.0" stroke-linecap="round"/>
<polyline points="304.8,227.6 302.1,229.3 299.4,230.0" fill="none" stroke="#111" stroke-width="1.0" stroke-linecap="round"/>
<polyline points="308.4,246.5 305.5,247.7 306.0,250.1" fill="none" stroke="#111" stroke-width="1.0" stroke-linecap="round"/>
<polyline points="292.0,212.0 292.8,213.0 290.7,213.5" fill="none" stroke="#111" stroke-width="1.0" stroke-linecap="round"/>
<polyline points="291.0,192.3 288.5,194.5 286.3,195.0" fill="none" stroke="#111" stroke-width="1.0" stroke-linecap="round"/>
<polyline points="301.3,233.9 298.6,235.9 299.9,238.1" fill="none" stroke="#111" stroke-width="1.0" stroke-linecap="round"/>
<polyline points="302.6,226.7 302.4,229.1 300.9,231.5" fill="none" stroke="#111" stroke-width="1.0" stroke-linecap="round"/>
<polyline points="285.6,185.0 287.5,185.7 286.4,187.6" fill="none" stroke="#111" stroke-width="1.0" stroke-linecap="round"/>
<polyline points="293.6,217.1 292.8,218.7 292.4,220.6" fill="none" stroke="#111" stroke-width="1.0" stroke-linecap="round"/>
<polyline points="295.0,208.7 295.7,210.0 295.1,212.1" fill="none" stroke="#111" stroke-width="1.0" stroke-linecap="round"/>
<polyline points="297.6,222.5 295.0,225.0 296.2,227.1" fill="none" stroke="#111" stroke-width="1.0" stroke-linecap="round"/>
<polyline points="313.0,250.5 313.6,251.6 313.2,253.9" fill="none" stroke="#111" stroke-width="1.0" stroke-linecap="round"/>
<polyline points="303.4,224.9 305.3,226.0 302.3,227.0" fill="none" stroke="#111" stroke-width="1.0" stroke-linecap="round"/>
<polyline points="309.1,239.5 306.4,241.7 308.3,243.9" fill="none" stroke="#111" stroke-width="1.0" stroke-linecap="round"/>
<polyline points="309.4,241.9 310.5,244.2 309.6,244.9" fill="none" stroke="#111" stroke-width="1.0" stroke-linecap="round"/>
<polyline points="291.4,197.6 294.0,198.6 294.6,200.5" fill="none" stroke="#111" stroke-width="1.0" stroke-linecap="round"/>
<polyline points="292.9,201.3 294.6,202.7 292.2,204.9" fill="none" stroke="#111" stroke-width="1.0" stroke-linecap="round"/>
<polyline points="302.8,223.4 305.1,225.0 305.0,226.6" fill="none" stroke="#111" stroke-width="1.0" stroke-linecap="round"/>
<polyline points="290.5,196.3 289.7,197.9 289.1,199.5" fill="none" stroke="#111" stroke-width="1.0" stroke-linecap="round"/>
<polyline points="309.9,251.8 307.6,253.6 309.3,254.4" fill="none" stroke="#111" stroke-width="1.0" stroke-linecap="round"/>
<polyline points="294.2,219.3 291.4,221.8 293.6,223.3" fill="none" stroke="#111" stroke-width="1.0" stroke-linecap="round"/>
<polyline points="304.4,237.0 307.1,239.0 309.0,241.4" fill="none" stroke="#111" stroke-width="1.0" stroke-linecap="round"/>
<polyline points="286.9,197.7 284.4,198.3 284.7,200.5" fill="none" stroke="#111" stroke-width="1.0" stroke-linecap="round"/>
<polyline points="305.1,245.9 305.7,247.2 303.4,249.6" fill="none" stroke="#111" stroke-width="1.0" stroke-linecap="round"/>
<polyline points="304.9,227.6 306.0,228.8 305.7,229.7" fill="none" stroke="#111" stroke-width="1.0" stroke-linecap="round"/>
<polyline points="286.3,199.1 284.8,200.3 287.2,202.6" fill="none" stroke="#111" stroke-width="1.0" stroke-linecap="round"/>
<polyline points="306.9,237.5 307.8,239.9 305.1,240.7" fill="none" stroke="#111" stroke-width="1.0" stroke-linecap="round"/>
<polyline points="300.7,230.0 301.2,232.0 298.8,233.2" fill="none" stroke="#111" stroke-width="1.0" stroke-linecap="round"/>
<polyline points="294.3,216.7 292.8,217.5 293.8,218.0" fill="none" stroke="#111" stroke-width="1.0" stroke-linecap="round"/>
<polyline points="288.4,186.4 286.7,188.8 288.9,191.1" fill="none" stroke="#111" stroke-width="1.0" stroke-linecap="round"/>
<polyline points="290.0,190.6 292.1,192.4 291.8,193.5" fill="none" stroke="#111" stroke-width="1.0" stroke-linecap="round"/>
<polyline points="298.1,226.7 296.4,227.3 297.7,228.9" fill="none" stroke="#111" stroke-width="1.0" stroke-linecap="round"/>
<polyline points="290.5,202.1 288.4,203.2 290.5,204.3" fill="none" stroke="#111" stroke-width="1.0" stroke-linecap="round"/>
<polyline points="295.8,205.6 293.5,208.1 290.8,210.4" fill="none" stroke="#111" stroke-width="1.0" stroke-linecap="round"/>
<polyline points="295.2,216.5 293.7,217.4 292.9,219.9" fill="none" stroke="#111" stroke-width="1.0" stroke-linecap="round"/>
<polyline points="284.9,190.6 287.3,191.2 288.7,192.3" fill="none" stroke="#111" stroke-width="1.0" stroke-linecap="round"/>
<polyline points="304.5,238.9 302.4,239.4 304.4,240.9" fill="none" stroke="#111" stroke-width="1.0" stroke-linecap="round"/>
<polyline points="306.4,246.0 306.8,246.8 304.9,248.8" fill="none" stroke="#111" stroke-width="1.0" stroke-linecap="round"/>
<polyline points="282.8,189.4 283.5,190.9 282.1,191.8" fill="none" stroke="#111" stroke-width="1.0" stroke-linecap="round"/>
<polyline points="306.6,239.2 304.8,239.8 306.2,241.1" fill="none" stroke="#111" stroke-width="1.0" stroke-linecap="round"/>
<polyline points="304.6,239.1 306.6,241.4 306.6,241.9" fill="none" stroke="#111" stroke-width="1.0" stroke-linecap="round"/>
<polyline points="305.7,243.3 303.8,245.5 303.0,246.3" fill="none" stroke="#111" stroke-width="1.0" stroke-linecap="round"/>
<polyline points="284.3,184.3 284.0,185.8 281.7,187.8" fill="none" stroke="#111" stroke-width="1.0" stroke-linecap="round"/>
<polyline points="294.4,205.8 293.6,207.8 291.0,210.1" fill="none" stroke="#111" stroke-width="1.0" stroke-linecap="round"/>
<polyline points="298.1,218.9 298.3,219.4 301.1,220.4" fill="none" stroke="#111" stroke-width="1.0" stroke-linecap="round"/>
<polyline points="293.3,201.0 290.5,201.7 291.7,202.6" fill="none" stroke="#111" stroke-width="1.0" stroke-linecap="round"/>
<polyline points="299.7,223.2 301.0,223.9 303.2,225.8" fill="none" stroke="#111" stroke-width="1.0" stroke-linecap="round"/>
<polyline points="297.3,217.6 296.0,218.3 295.4,219.1" fill="none" stroke="#111" stroke-width="1.0" stroke-linecap="round"/>
<polyline points="288.6,194.0 290.0,194.8 292.0,197.2" fill="none" stroke="#111" stroke-width="1.0" stroke-linecap="round"/>
<polyline points="306.9,241.1 306.3,243.5 307.9,244.7" fill="none" stroke="#111" stroke-width="1.0" stroke-linecap="round"/>
<polyline points="299.6,213.6 301.4,215.9 303.3,218.1" fill="none" stroke="#111" stroke-width="1.0" stroke-linecap="round"/>
<polyline points="313.3,249.1 311.8,250.5 312.6,251.7" fill="none" stroke="#111" stroke-width="1.0" stroke-linecap="round"/>
<polyline points="295.7,213.4 292.9,214.2 295.7,216.3" fill="none" stroke="#111" stroke-width="1.0" stroke-linecap="round"/>
<polyline points="308.9,239.0 311.2,239.6 312.1,240.6" fill="none" stroke="#111" stroke-width="1.0" stroke-linecap="round"/>
<polyline points="302.0,220.9 302.8,221.9 302.9,223.2" fill="none" stroke="#111" stroke-width="1.0" stroke-linecap="round"/>
<polyline points="293.4,204.8 291.1,206.5 293.9,208.0" fill="none" stroke="#111" stroke-width="1.0" stroke-linecap="round"/>
<polyline points="295.6,220.3 293.3,221.1 292.1,222.4" fill="none" stroke="#111" stroke-width="1.0" stroke-linecap="round"/>
<polyline points="286.7,190.0 288.8,191.7 289.2,193.5" fill="none" stroke="#111" stroke-width="1.0" stroke-linecap="round"/>
<polyline points="296.8,215.3 297.5,216.8 296.4,217.8" fill="none" stroke="#111" stroke-width="1.0" stroke-linecap="round"/>
<polyline points="295.0,210.1 292.1,211.3 294.3,212.2" fill="none" stroke="#111" stroke-width="1.0" stroke-linecap="round"/>
<polyline points="295.6,203.4 294.4,205.4 292.3,206.0" fill="none" stroke="#111" stroke-width="1.0" stroke-linecap="round"/>
<polyline points="284.8,188.2 284.4,190.2 282.1,191.1" fill="none" stroke="#111" stroke-width="1.0" stroke-linecap="round"/>
<polyline points="286.9,194.5 286.0,196.4 286.7,198.6" fill="none" stroke="#111" stroke-width="1.0" stroke-linecap="round"/>
<polyline points="305.9,234.2 307.5,235.7 309.2,237.6" fill="none" stroke="#111" stroke-width="1.0" stroke-linecap="round"/>
<polyline points="303.5,243.2 305.1,244.9 305.1,247.3" fill="none" stroke="#111" stroke-width="1.0" stroke-linecap="round"/>
<polyline points="308.1,237.3 308.8,238.5 308.5,240.0" fill="none" stroke="#111" stroke-width="1.0" stroke-linecap="round"/>
<polyline points="295.0,210.6 294.3,211.7 296.0,213.9" fill="none" stroke="#111" stroke-width="1.0" stroke-linecap="round"/>
<polyline points="287.4,196.5 285.3,198.2 285.8,198.9" fill="none" stroke="#111" stroke-width="1.0" stroke-linecap="round"/>
<polyline points="309.5,241.4 312.2,242.3 311.8,244.6" fill="none" stroke="#111" stroke-width="1.0" stroke-linecap="round"/>
<polyline points="299.2,222.4 301.8,224.5 302.0,227.0" fill="none" stroke="#111" stroke-width="1.0" stroke-linecap="round"/>
<polyline points="301.6,230.6 300.8,232.3 299.9,234.7" fill="none" stroke="#111" stroke-width="1.0" stroke-linecap="round"/>
<polyline points="285.7,190.7 285.1,192.4 285.5,194.6" fill="none" stroke="#111" stroke-width="1.0" stroke-linecap="round"/>
<polyline points="296.9,213.9 299.9,215.1 300.0,217.2" fill="none" stroke="#111" stroke-width="1.0" stroke-linecap="round"/>
<polyline points="313.0,250.5 313.1,251.3 315.5,253.1" fill="none" stroke="#111" stroke-width="1.0" stroke-linecap="round"/>
<polyline points="307.3,244.4 305.3,245.5 305.4,247.0" fill="none" stroke="#111" stroke-width="1.0" stroke-linecap="round"/>
<polyline points="301.8,226.8 301.0,229.3 301.8,229.9" fill="none" stroke="#111" stroke-width="1.0" stroke-linecap="round"/>
<polyline points="293.8,204.9 290.8,206.0 292.9,207.6" fill="none" stroke="#111" stroke-width="1.0" stroke-linecap="round"/>
<polyline points="297.9,217.9 296.5,219.6 296.7,222.1" fill="none" stroke="#111" stroke-width="1.0" stroke-linecap="round"/>
<polyline points="284.5,192.3 286.1,193.0 283.7,193.8" fill="none" stroke="#111" stroke-width="1.0" stroke-linecap="round"/>
<polyline points="303.0,225.7 300.4,226.2 302.0,227.4" fill="none" stroke="#111" stroke-width="1.0" stroke-linecap="round"/>
<polyline points="286.7,195.5 284.3,197.8 284.8,199.0" fill="none" stroke="#111" stroke-width="1.0" stroke-linecap="round"/>
<polyline points="288.6,187.7 289.1,190.1 288.7,191.9" fill="none" stroke="#111" stroke-width="1.0" stroke-linecap="round"/>
<polyline points="312.0,247.3 310.9,249.6 312.8,250.7" fill="none" stroke="#111" stroke-width="1.0" stroke-linecap="round"/>
<polyline points="301.0,217.7 299.4,219.0 300.7,219.9" fill="none" stroke="#111" stroke-width="1.0" stroke-linecap="round"/>
<polyline points="299.4,216.9 297.9,217.8 297.0,218.7" fill="none" stroke="#111" stroke-width="1.0" stroke-linecap="round"/>
<polyline points="296.1,222.2 296.3,223.5 295.7,224.1" fill="none" stroke="#111" stroke-width="1.0" stroke-linecap="round"/>
<polyline points="291.4,207.9 289.6,209.0 288.0,209.5" fill="none" stroke="#111" stroke-width="1.0" stroke-linecap="round"/>
<polyline points="289.9,194.6 287.4,195.6 289.4,196.4" fill="none" stroke="#111" stroke-width="1.0" stroke-linecap="round"/>
<polyline points="303.0,238.7 302.1,240.7 301.4,243.1" fill="none" stroke="#111" stroke-width="1.0" stroke-linecap="round"/>
<polyline points="295.4,218.3 295.2,219.1 296.4,220.1" fill="none" stroke="#111" stroke-width="1.0" stroke-linecap="round"/>
<polyline points="291.9,209.0 292.6,209.9 294.8,210.7" fill="none" stroke="#111" stroke-width="1.0" stroke-linecap="round"/>
<polyline points="293.5,202.4 292.8,204.2 293.2,205.3" fill="none" stroke="#111" stroke-width="1.0" stroke-linecap="round"/>
<polyline points="291.6,196.0 290.5,197.9 288.2,199.5" fill="none" stroke="#111" stroke-width="1.0" stroke-linecap="round"/>
<polyline points="288.5,204.2 287.4,205.1 285.2,207.1" fill="none" stroke="#111" stroke-width="1.0" stroke-linecap="round"/>
<polyline points="310.7,245.8 313.0,248.0 310.8,249.1" fill="none" stroke="#111" stroke-width="1.0" stroke-linecap="round"/>
<polyline points="300.7,229.1 300.2,230.9 301.4,231.9" fill="none" stroke="#111" stroke-width="1.0" stroke-linecap="round"/>
<polyline points="298.4,226.8 296.1,229.1 297.5,231.0" fill="none" stroke="#111" stroke-width="1.0" stroke-linecap="round"/>
<polyline points="286.0,195.0 284.8,196.3 282.0,197.4" fill="none" stroke="#111" stroke-width="1.0" stroke-linecap="round"/>
<polyline points="307.2,241.1 308.5,242.1 308.1,244.0" fill="none" stroke="#111" stroke-width="1.0" stroke-linecap="round"/>
<polyline points="308.7,240.7 307.5,241.3 309.6,243.0" fill="none" stroke="#111" stroke-width="1.0" stroke-linecap="round"/>
<polyline points="289.3,191.6 287.6,193.9 289.1,194.6" fill="none" stroke="#111" stroke-width="1.0" stroke-linecap="round"/>
<polyline points="700.5,128.3 708.4,135.2 722.0,146.9 731.8,158.6 745.5,167.4 757.2,169.3 768.9,170.3 776.7,176.2 786.5,182.0 788.4,192.0" fill="none" stroke="#111" stroke-width="2.2" stroke-linejoin="round"/>
<polyline points="308,259 311,266 309,273 312,279 307,285" fill="none" stroke="#111" stroke-width="1.6"/>
<polyline points="278,371 283,373 281,377" fill="none" stroke="#111" stroke-width="1.4"/>
<ellipse cx="292" cy="423.5" rx="2.6" ry="0.9" fill="#111"/>
<ellipse cx="301" cy="431" rx="1" ry="1.6" fill="#111"/>
<ellipse cx="303.5" cy="437" rx="0.9" ry="1.3" fill="#111"/>
<polyline points="683,371 686,380 684,388 688,396 687,404" fill="none" stroke="#111" stroke-width="1.3"/>
<polyline points="690,372 693,382 692,392" fill="none" stroke="#111" stroke-width="1.1"/>
<polyline points="570,497 575,503 579,499 576,492" fill="none" stroke="#111" stroke-width="1.6"/>
<ellipse cx="612" cy="233" rx="3.5" ry="2" fill="none" stroke="#111" stroke-width="0.9"/>
<polyline points="741.6,169.6 742.7,169.5 744.1,168.2" fill="none" stroke="#111" stroke-width="1.1" stroke-linecap="round"/>
<polyline points="754.6,169.3 753.8,167.6 755.0,168.4" fill="none" stroke="#111" stroke-width="1.1" stroke-linecap="round"/>
<polyline points="739.3,166.8 737.9,164.9 738.0,163.1" fill="none" stroke="#111" stroke-width="1.1" stroke-linecap="round"/>
<polyline points="706.0,135.1 706.3,133.9 705.3,133.1" fill="none" stroke="#111" stroke-width="1.1" stroke-linecap="round"/>
<polyline points="758.1,173.6 760.0,174.9 760.9,174.2" fill="none" stroke="#111" stroke-width="1.1" stroke-linecap="round"/>
<polyline points="704.9,132.9 703.3,132.1 701.6,130.2" fill="none" stroke="#111" stroke-width="1.1" stroke-linecap="round"/>
<polyline points="702.1,135.8 701.7,134.1 702.2,135.2" fill="none" stroke="#111" stroke-width="1.1" stroke-linecap="round"/>
<polyline points="721.2,148.7 722.9,147.3 723.7,145.3" fill="none" stroke="#111" stroke-width="1.1" stroke-linecap="round"/>
<polyline points="762.7,171.6 761.4,172.6 760.0,173.2" fill="none" stroke="#111" stroke-width="1.1" stroke-linecap="round"/>
<polyline points="706.3,138.7 708.2,139.0 710.2,137.1" fill="none" stroke="#111" stroke-width="1.1" stroke-linecap="round"/>
<polyline points="752.8,169.0 754.7,167.9 753.8,169.0" fill="none" stroke="#111" stroke-width="1.1" stroke-linecap="round"/>
<polyline points="701.0,130.3 701.6,128.4 701.1,128.8" fill="none" stroke="#111" stroke-width="1.1" stroke-linecap="round"/>
<polyline points="746.2,169.2 746.7,168.4 745.6,168.9" fill="none" stroke="#111" stroke-width="1.1" stroke-linecap="round"/>
<polyline points="767.7,171.0 769.5,172.6 769.9,172.2" fill="none" stroke="#111" stroke-width="1.1" stroke-linecap="round"/>
<polyline points="722.6,152.5 721.7,153.8 722.1,153.0" fill="none" stroke="#111" stroke-width="1.1" stroke-linecap="round"/>
<polyline points="700.8,131.7 701.4,132.2 699.7,131.0" fill="none" stroke="#111" stroke-width="1.1" stroke-linecap="round"/>
<polyline points="701.9,132.5 700.2,131.2 699.6,131.4" fill="none" stroke="#111" stroke-width="1.1" stroke-linecap="round"/>
<polyline points="743.7,169.9 744.4,170.2 743.0,168.3" fill="none" stroke="#111" stroke-width="1.1" stroke-linecap="round"/>
<polyline points="760.8,169.7 761.2,168.0 759.4,167.3" fill="none" stroke="#111" stroke-width="1.1" stroke-linecap="round"/>
<polyline points="737.5,166.4 739.1,167.3 739.9,168.5" fill="none" stroke="#111" stroke-width="1.1" stroke-linecap="round"/>
<polyline points="762.6,170.1 764.0,171.9 762.1,171.9" fill="none" stroke="#111" stroke-width="1.1" stroke-linecap="round"/>
<polyline points="738.3,166.2 736.6,166.7 738.6,168.2" fill="none" stroke="#111" stroke-width="1.1" stroke-linecap="round"/>
<polyline points="764.2,171.8 764.1,172.0 764.1,172.0" fill="none" stroke="#111" stroke-width="1.1" stroke-linecap="round"/>
<polyline points="701.0,133.2 701.0,133.7 702.7,132.7" fill="none" stroke="#111" stroke-width="1.1" stroke-linecap="round"/>
<polyline points="763.1,172.0 764.1,171.4 765.8,171.3" fill="none" stroke="#111" stroke-width="1.1" stroke-linecap="round"/>
<polyline points="722.9,150.9 724.1,152.6 725.7,152.1" fill="none" stroke="#111" stroke-width="1.1" stroke-linecap="round"/>
<polyline points="709.4,138.2 711.0,136.3 709.2,138.3" fill="none" stroke="#111" stroke-width="1.1" stroke-linecap="round"/>
<polyline points="735.1,161.9 734.7,162.4 734.7,161.6" fill="none" stroke="#111" stroke-width="1.1" stroke-linecap="round"/>
<polyline points="734.2,164.7 733.3,165.2 734.0,164.3" fill="none" stroke="#111" stroke-width="1.1" stroke-linecap="round"/>
<polyline points="745.4,168.0 745.2,166.1 746.5,165.0" fill="none" stroke="#111" stroke-width="1.1" stroke-linecap="round"/>
<polyline points="758.3,169.9 758.4,170.4 757.9,168.7" fill="none" stroke="#111" stroke-width="1.1" stroke-linecap="round"/>
<polyline points="723.7,149.0 723.6,149.9 722.3,149.0" fill="none" stroke="#111" stroke-width="1.1" stroke-linecap="round"/>
<polyline points="749.0,172.3 747.6,173.7 748.4,172.6" fill="none" stroke="#111" stroke-width="1.1" stroke-linecap="round"/>
<polyline points="732.5,161.6 733.0,163.2 732.5,163.5" fill="none" stroke="#111" stroke-width="1.1" stroke-linecap="round"/>
<polyline points="725.0,154.9 723.8,155.8 725.1,156.4" fill="none" stroke="#111" stroke-width="1.1" stroke-linecap="round"/>
<polyline points="742.9,171.1 743.0,172.3 742.3,173.9" fill="none" stroke="#111" stroke-width="1.1" stroke-linecap="round"/>
<polyline points="700.5,130.6 700.1,129.7 701.8,128.6" fill="none" stroke="#111" stroke-width="1.1" stroke-linecap="round"/>
<polyline points="701.5,131.4 702.6,130.0 701.2,130.0" fill="none" stroke="#111" stroke-width="1.1" stroke-linecap="round"/>
<polyline points="760.2,173.3 760.6,174.0 761.6,173.8" fill="none" stroke="#111" stroke-width="1.1" stroke-linecap="round"/>
<polyline points="751.7,170.7 753.1,170.9 752.3,170.5" fill="none" stroke="#111" stroke-width="1.1" stroke-linecap="round"/>
<polyline points="712.2,139.3 712.4,138.4 712.4,138.1" fill="none" stroke="#111" stroke-width="1.1" stroke-linecap="round"/>
<polyline points="729.9,162.7 729.9,162.3 731.1,162.6" fill="none" stroke="#111" stroke-width="1.1" stroke-linecap="round"/>
<polyline points="706.8,136.6 708.5,137.8 708.1,136.8" fill="none" stroke="#111" stroke-width="1.1" stroke-linecap="round"/>
<polyline points="738.7,163.7 738.4,161.8 737.5,162.6" fill="none" stroke="#111" stroke-width="1.1" stroke-linecap="round"/>
<polyline points="709.8,140.6 709.1,140.0 709.6,138.4" fill="none" stroke="#111" stroke-width="1.1" stroke-linecap="round"/>
<polyline points="751.1,171.5 751.9,173.0 750.0,173.5" fill="none" stroke="#111" stroke-width="1.1" stroke-linecap="round"/>
<polyline points="746.4,170.3 746.9,170.4 748.3,170.9" fill="none" stroke="#111" stroke-width="1.1" stroke-linecap="round"/>
<polyline points="763.7,171.3 762.4,171.7 764.0,170.5" fill="none" stroke="#111" stroke-width="1.1" stroke-linecap="round"/>
<polyline points="701.4,130.8 702.3,129.8 700.7,131.2" fill="none" stroke="#111" stroke-width="1.1" stroke-linecap="round"/>
<polyline points="709.6,140.1 710.8,138.4 711.1,137.9" fill="none" stroke="#111" stroke-width="1.1" stroke-linecap="round"/>
<polyline points="761.3,172.8 761.3,173.6 760.1,171.9" fill="none" stroke="#111" stroke-width="1.1" stroke-linecap="round"/>
<polyline points="750.5,172.2 750.4,170.9 748.9,169.6" fill="none" stroke="#111" stroke-width="1.1" stroke-linecap="round"/>
<polyline points="758.2,169.6 760.0,169.5 761.0,168.8" fill="none" stroke="#111" stroke-width="1.1" stroke-linecap="round"/>
<polyline points="733.8,161.9 734.3,160.1 733.1,159.7" fill="none" stroke="#111" stroke-width="1.1" stroke-linecap="round"/>
<polyline points="716.4,142.7 717.6,142.0 715.9,143.3" fill="none" stroke="#111" stroke-width="1.1" stroke-linecap="round"/>
<polyline points="739.1,164.4 739.5,163.7 740.5,162.9" fill="none" stroke="#111" stroke-width="1.1" stroke-linecap="round"/>
<polyline points="718.5,146.4 720.1,147.9 720.9,148.9" fill="none" stroke="#111" stroke-width="1.1" stroke-linecap="round"/>
<polyline points="757.4,172.7 756.7,171.1 758.2,173.0" fill="none" stroke="#111" stroke-width="1.1" stroke-linecap="round"/>
<polyline points="729.7,160.6 729.0,161.3 729.3,161.4" fill="none" stroke="#111" stroke-width="1.1" stroke-linecap="round"/>
<polyline points="759.4,170.0 759.0,170.3 757.4,168.7" fill="none" stroke="#111" stroke-width="1.1" stroke-linecap="round"/>
<polyline points="745.6,168.3 745.1,166.7 744.1,168.3" fill="none" stroke="#111" stroke-width="1.1" stroke-linecap="round"/>
<polyline points="749.8,172.5 750.3,173.7 748.6,174.1" fill="none" stroke="#111" stroke-width="1.1" stroke-linecap="round"/>
<polyline points="711.3,143.6 712.7,143.8 713.1,143.5" fill="none" stroke="#111" stroke-width="1.1" stroke-linecap="round"/>
<polyline points="739.1,165.3 738.3,165.9 738.5,165.1" fill="none" stroke="#111" stroke-width="1.1" stroke-linecap="round"/>
<polyline points="705.3,136.1 705.8,135.8 706.6,134.0" fill="none" stroke="#111" stroke-width="1.1" stroke-linecap="round"/>
<polyline points="754.8,173.1 753.1,174.7 752.8,174.6" fill="none" stroke="#111" stroke-width="1.1" stroke-linecap="round"/>
<polyline points="744.7,170.8 746.3,169.4 748.2,168.4" fill="none" stroke="#111" stroke-width="1.1" stroke-linecap="round"/>
<polyline points="737.6,163.4 735.8,163.5 734.3,163.3" fill="none" stroke="#111" stroke-width="1.1" stroke-linecap="round"/>
<polyline points="726.6,157.1 726.1,158.1 727.3,156.6" fill="none" stroke="#111" stroke-width="1.1" stroke-linecap="round"/>
<polyline points="731.2,163.2 732.4,163.7 731.8,162.8" fill="none" stroke="#111" stroke-width="1.1" stroke-linecap="round"/>
</svg>

<div id="leg"></div>
<div class="sw" style="top:338px;background:#0000fc"></div>
<div class="sw" style="top:361px;background:#3b80fe"></div>
<div class="sw" style="top:384px;background:#05fcfc"></div>
<div class="sw" style="top:407px;background:#fdfd05"></div>
<div class="sw" style="top:430px;background:#ffa508"></div>
<div class="sw" style="top:453px;background:#ff5a08"></div>
<div class="sw" style="top:476px;background:#fc0505"></div>
<div class="lt" style="top:338px">0.1% - 0.5%</div>
<div class="lt" style="top:361px">0.5% - 1%</div>
<div class="lt" style="top:384px">1% - 2.5%</div>
<div class="lt" style="top:407px">2.5% - 5%</div>
<div class="lt" style="top:430px">5% - 7.5%</div>
<div class="lt" style="top:453px">7.5% - 10%</div>
<div class="lt" style="top:476px">10% - 100%</div>

<svg width="1024" height="581" viewBox="0 0 1024 581" style="position:absolute;left:0;top:0">
<g fill="#b3d48a">
<ellipse cx="866.3" cy="392.2" rx="10.2" ry="15.6"/>
<ellipse cx="890.7" cy="381.5" rx="8.2" ry="12.7"/>
<ellipse cx="911.6" cy="379.5" rx="6.8" ry="10.2"/>
<ellipse cx="930.2" cy="381.1" rx="4.9" ry="7.8"/>
<path d="M941.5,396.1 C902.4,393.2 865.3,414.7 869.2,438.1 C872.1,455.7 896.6,466.4 922,466.4 C904.4,461.6 890.7,449.8 890.7,434.2 C890.7,414.7 912.2,401 941.5,396.1Z"/>
</g>
<text x="803" y="441" font-family="Liberation Serif" font-size="36" fill="#1d6b50" textLength="176" lengthAdjust="spacingAndGlyphs">CAPC</text>
<text x="804.5" y="451" font-family="Liberation Sans" font-size="7" fill="#2a5a46" textLength="171" lengthAdjust="spacingAndGlyphs">Companion Animal Parasite Council</text>
<text x="976" y="447.5" font-family="Liberation Sans" font-size="4" fill="#2a5a46">®</text>
</svg>
<div class="url" style="left:853px;top:483px;font-size:17.5px;line-height:20px;transform:scaleX(0.918);">capcvet.org</div>
<div class="url" style="left:821px;top:512px;font-size:17.5px;line-height:20px;transform:scaleX(0.91);">petdiseasealerts.org</div>
<div id="foot"></div>
</body></html>
